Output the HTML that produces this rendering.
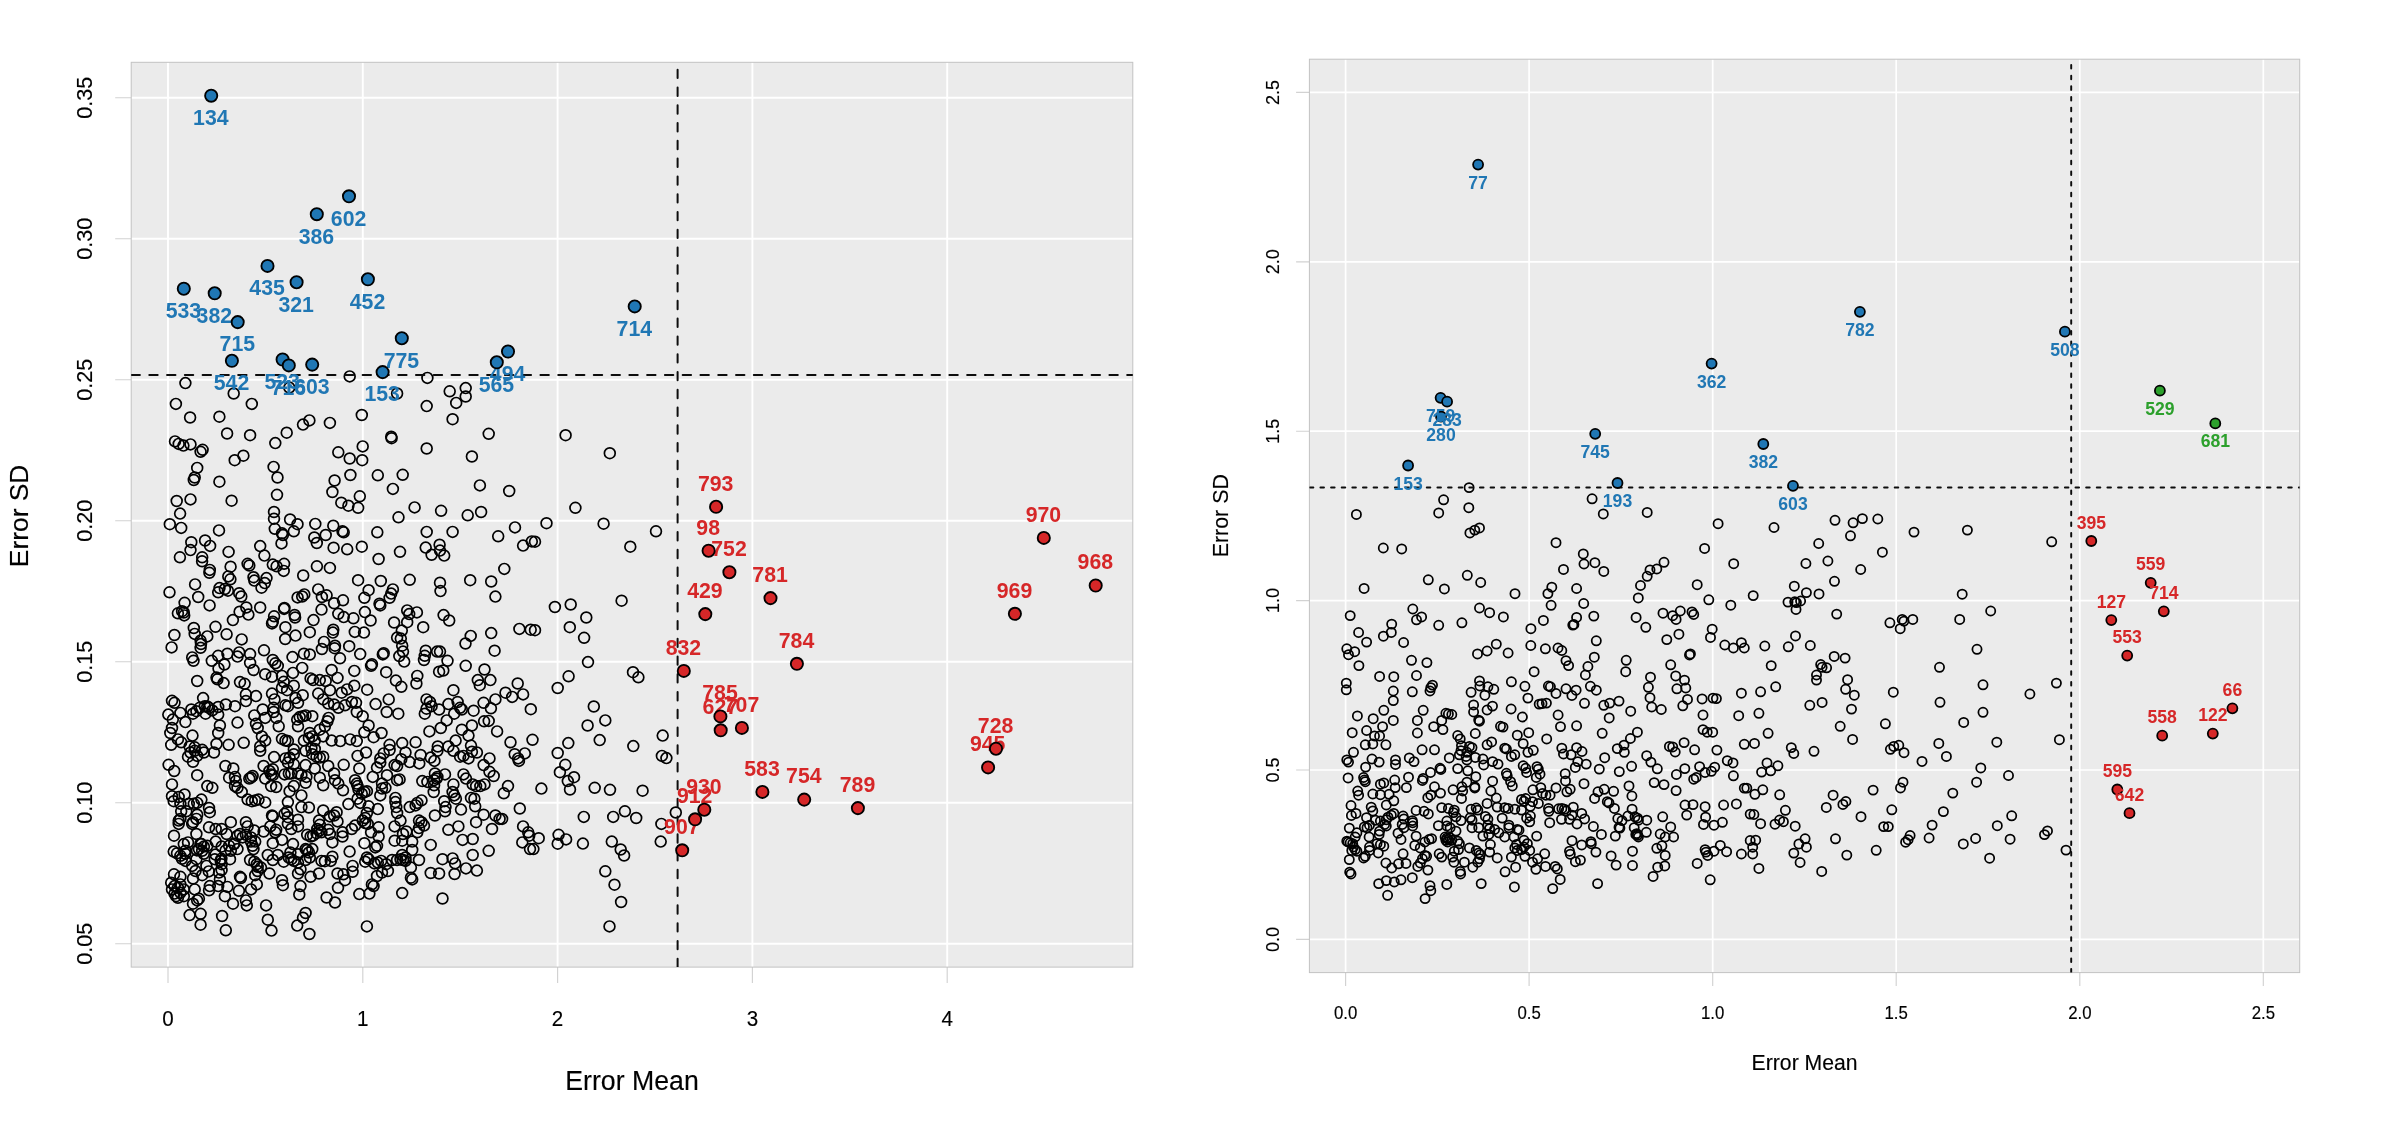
<!DOCTYPE html>
<html lang="en"><head><meta charset="utf-8"><title>Error Mean vs Error SD</title>
<style>html,body{margin:0;padding:0;background:#fff}body{width:2400px;height:1131px;overflow:hidden}svg{display:block;will-change:transform;opacity:.999}</style>
</head><body>
<svg width="2400" height="1131" viewBox="0 0 2400 1131" font-family='"Liberation Sans", Arial, Helvetica, sans-serif'>
<rect width="2400" height="1131" fill="#fff"/>
<rect x="131.2" y="62.3" width="1001.6" height="904.8" fill="#ebebeb"/>
<path d="M168 62.3V967.1M362.8 62.3V967.1M557.6 62.3V967.1M752.4 62.3V967.1M947.2 62.3V967.1M131.2 943.7H1132.8M131.2 802.7H1132.8M131.2 661.7H1132.8M131.2 520.7H1132.8M131.2 379.7H1132.8M131.2 238.7H1132.8M131.2 97.7H1132.8" stroke="#fff" stroke-width="1.9" fill="none"/>
<path d="M168 967.1v16M362.8 967.1v16M557.6 967.1v16M752.4 967.1v16M947.2 967.1v16M131.2 943.7h-16M131.2 802.7h-16M131.2 661.7h-16M131.2 520.7h-16M131.2 379.7h-16M131.2 238.7h-16M131.2 97.7h-16" stroke="#d2d2d2" stroke-width="1.15" fill="none"/>
<rect x="131.2" y="62.3" width="1001.6" height="904.8" fill="none" stroke="#c2c2c2" stroke-width="1"/>
<clipPath id="cl"><rect x="131.2" y="62.3" width="1001.6" height="904.8"/></clipPath>
<g clip-path="url(#cl)">
<g fill="none" stroke="#000" stroke-width="1.7">
<circle cx="185.4" cy="383.1" r="5.4"/><circle cx="349.7" cy="376.4" r="5.4"/><circle cx="427.4" cy="377.9" r="5.4"/><circle cx="233.7" cy="393.5" r="5.4"/><circle cx="289.3" cy="387.6" r="5.4"/><circle cx="397.1" cy="393.5" r="5.4"/><circle cx="449.7" cy="391.3" r="5.4"/><circle cx="465.7" cy="388.1" r="5.4"/><circle cx="465.7" cy="396.5" r="5.4"/><circle cx="456.2" cy="402.9" r="5.4"/><circle cx="175.9" cy="403.9" r="5.4"/><circle cx="251.8" cy="403.9" r="5.4"/><circle cx="426.7" cy="406.1" r="5.4"/><circle cx="361.8" cy="415" r="5.4"/><circle cx="190.1" cy="417.5" r="5.4"/><circle cx="219.4" cy="416.7" r="5.4"/><circle cx="452.6" cy="419.2" r="5.4"/><circle cx="309.4" cy="420.4" r="5.4"/><circle cx="303" cy="424.6" r="5.4"/><circle cx="329.9" cy="422.9" r="5.4"/><circle cx="227.1" cy="433.5" r="5.4"/><circle cx="250.1" cy="435.2" r="5.4"/><circle cx="286.7" cy="432.7" r="5.4"/><circle cx="488.7" cy="433.8" r="5.4"/><circle cx="391.2" cy="436.7" r="5.4"/><circle cx="391.6" cy="438.2" r="5.4"/><circle cx="275.3" cy="443.1" r="5.4"/><circle cx="175" cy="441.4" r="5.4"/><circle cx="178.7" cy="443.9" r="5.4"/><circle cx="183.4" cy="445.6" r="5.4"/><circle cx="190.5" cy="444.4" r="5.4"/><circle cx="202.6" cy="449.8" r="5.4"/><circle cx="200.6" cy="451.8" r="5.4"/><circle cx="362.7" cy="446.4" r="5.4"/><circle cx="426.7" cy="448.5" r="5.4"/><circle cx="338.3" cy="452.3" r="5.4"/><circle cx="349.7" cy="458.5" r="5.4"/><circle cx="362.2" cy="460.2" r="5.4"/><circle cx="243.4" cy="455.7" r="5.4"/><circle cx="234.7" cy="460.2" r="5.4"/><circle cx="471.9" cy="456.5" r="5.4"/><circle cx="273.6" cy="466.9" r="5.4"/><circle cx="197.2" cy="467.9" r="5.4"/><circle cx="350.4" cy="475" r="5.4"/><circle cx="377.8" cy="475.3" r="5.4"/><circle cx="402.7" cy="474.8" r="5.4"/><circle cx="277.5" cy="477.5" r="5.4"/><circle cx="194.7" cy="477.5" r="5.4"/><circle cx="193.8" cy="480" r="5.4"/><circle cx="219.4" cy="481.7" r="5.4"/><circle cx="334.6" cy="480.5" r="5.4"/><circle cx="479.9" cy="485.4" r="5.4"/><circle cx="392.9" cy="488.9" r="5.4"/><circle cx="509.2" cy="491" r="5.4"/><circle cx="332.4" cy="492" r="5.4"/><circle cx="277" cy="494.8" r="5.4"/><circle cx="359.8" cy="496.3" r="5.4"/><circle cx="190.5" cy="499.4" r="5.4"/><circle cx="176.7" cy="501" r="5.4"/><circle cx="231.6" cy="500.7" r="5.4"/><circle cx="341.3" cy="502.7" r="5.4"/><circle cx="348.4" cy="505.7" r="5.4"/><circle cx="358.1" cy="507.8" r="5.4"/><circle cx="414.6" cy="507.4" r="5.4"/><circle cx="441.1" cy="510.8" r="5.4"/><circle cx="481.1" cy="512" r="5.4"/><circle cx="467.7" cy="515.3" r="5.4"/><circle cx="180.1" cy="513.6" r="5.4"/><circle cx="274" cy="512" r="5.4"/><circle cx="398.5" cy="517.3" r="5.4"/><circle cx="274" cy="518.7" r="5.4"/><circle cx="290.1" cy="519.5" r="5.4"/><circle cx="297.5" cy="524.2" r="5.4"/><circle cx="169.8" cy="524.2" r="5.4"/><circle cx="181.2" cy="527.9" r="5.4"/><circle cx="315.3" cy="523.9" r="5.4"/><circle cx="333.3" cy="525.7" r="5.4"/><circle cx="274.8" cy="528.8" r="5.4"/><circle cx="219" cy="530.4" r="5.4"/><circle cx="293.8" cy="531.3" r="5.4"/><circle cx="282" cy="533.3" r="5.4"/><circle cx="282.9" cy="535" r="5.4"/><circle cx="342.5" cy="531.3" r="5.4"/><circle cx="343.7" cy="532.3" r="5.4"/><circle cx="377.3" cy="532.3" r="5.4"/><circle cx="426.7" cy="531.9" r="5.4"/><circle cx="452.6" cy="531.9" r="5.4"/><circle cx="515" cy="527.4" r="5.4"/><circle cx="498.2" cy="536.3" r="5.4"/><circle cx="325.7" cy="535" r="5.4"/><circle cx="314.3" cy="537.5" r="5.4"/><circle cx="191.3" cy="542.2" r="5.4"/><circle cx="205.1" cy="540.5" r="5.4"/><circle cx="210.1" cy="545.9" r="5.4"/><circle cx="281.5" cy="543.4" r="5.4"/><circle cx="316.8" cy="543" r="5.4"/><circle cx="260.2" cy="546.1" r="5.4"/><circle cx="333.6" cy="547.7" r="5.4"/><circle cx="347.2" cy="549.3" r="5.4"/><circle cx="361.8" cy="546.7" r="5.4"/><circle cx="439.6" cy="544.7" r="5.4"/><circle cx="425.7" cy="547.6" r="5.4"/><circle cx="440" cy="550.6" r="5.4"/><circle cx="523.1" cy="545.6" r="5.4"/><circle cx="190.5" cy="550.1" r="5.4"/><circle cx="228.6" cy="551.9" r="5.4"/><circle cx="400" cy="551.8" r="5.4"/><circle cx="264.4" cy="555.6" r="5.4"/><circle cx="431.6" cy="554.8" r="5.4"/><circle cx="444.2" cy="555.6" r="5.4"/><circle cx="179.9" cy="557.3" r="5.4"/><circle cx="202.2" cy="557.3" r="5.4"/><circle cx="378.6" cy="559" r="5.4"/><circle cx="531.8" cy="541.4" r="5.4"/><circle cx="565.6" cy="435.2" r="5.4"/><circle cx="609.8" cy="453.2" r="5.4"/><circle cx="575.4" cy="507.8" r="5.4"/><circle cx="546.5" cy="523.2" r="5.4"/><circle cx="603.6" cy="523.7" r="5.4"/><circle cx="656" cy="531.3" r="5.4"/><circle cx="535" cy="541.7" r="5.4"/><circle cx="630.3" cy="546.7" r="5.4"/><circle cx="621.6" cy="600.7" r="5.4"/><circle cx="554.9" cy="607" r="5.4"/><circle cx="570.7" cy="604.5" r="5.4"/><circle cx="586.3" cy="617.5" r="5.4"/><circle cx="535" cy="630.2" r="5.4"/><circle cx="569.8" cy="627.2" r="5.4"/><circle cx="584.1" cy="637.8" r="5.4"/><circle cx="588" cy="662.1" r="5.4"/><circle cx="633" cy="672.2" r="5.4"/><circle cx="638.4" cy="677.3" r="5.4"/><circle cx="568.6" cy="676.3" r="5.4"/><circle cx="557.7" cy="688" r="5.4"/><circle cx="593.8" cy="706.5" r="5.4"/><circle cx="530.8" cy="709.2" r="5.4"/><circle cx="605.3" cy="720.4" r="5.4"/><circle cx="587.6" cy="725.5" r="5.4"/><circle cx="662.7" cy="735.6" r="5.4"/><circle cx="532.5" cy="739.8" r="5.4"/><circle cx="599.7" cy="740.1" r="5.4"/><circle cx="568.3" cy="743.1" r="5.4"/><circle cx="633.3" cy="746.1" r="5.4"/><circle cx="557.7" cy="753" r="5.4"/><circle cx="661.9" cy="755.9" r="5.4"/><circle cx="666.4" cy="758.1" r="5.4"/><circle cx="565.3" cy="764.8" r="5.4"/><circle cx="559.9" cy="772.2" r="5.4"/><circle cx="574" cy="777.2" r="5.4"/><circle cx="567.8" cy="781.1" r="5.4"/><circle cx="541.4" cy="788.6" r="5.4"/><circle cx="570" cy="789.5" r="5.4"/><circle cx="594.7" cy="787.8" r="5.4"/><circle cx="610" cy="789.8" r="5.4"/><circle cx="642.6" cy="790.7" r="5.4"/><circle cx="624.9" cy="811.3" r="5.4"/><circle cx="583.8" cy="816.9" r="5.4"/><circle cx="613.2" cy="816.9" r="5.4"/><circle cx="636.2" cy="818" r="5.4"/><circle cx="675.8" cy="812.5" r="5.4"/><circle cx="661.4" cy="823.9" r="5.4"/><circle cx="558.6" cy="834.8" r="5.4"/><circle cx="538.7" cy="838.2" r="5.4"/><circle cx="566.1" cy="839.4" r="5.4"/><circle cx="557.7" cy="843.7" r="5.4"/><circle cx="582.9" cy="843.6" r="5.4"/><circle cx="611.8" cy="841.6" r="5.4"/><circle cx="660.7" cy="841.6" r="5.4"/><circle cx="620.7" cy="849.5" r="5.4"/><circle cx="624.1" cy="855.5" r="5.4"/><circle cx="533.4" cy="849.1" r="5.4"/><circle cx="529.2" cy="835.7" r="5.4"/><circle cx="605.3" cy="871.3" r="5.4"/><circle cx="614.5" cy="884.7" r="5.4"/><circle cx="621.1" cy="902" r="5.4"/><circle cx="609.5" cy="926.4" r="5.4"/><circle cx="202.1" cy="561.3" r="5.4"/><circle cx="209.8" cy="569.9" r="5.4"/><circle cx="209.4" cy="572.8" r="5.4"/><circle cx="230.6" cy="566.7" r="5.4"/><circle cx="228.3" cy="576.4" r="5.4"/><circle cx="230.4" cy="579.3" r="5.4"/><circle cx="247.6" cy="563.8" r="5.4"/><circle cx="249.3" cy="565.5" r="5.4"/><circle cx="272.8" cy="564.6" r="5.4"/><circle cx="276.6" cy="566.3" r="5.4"/><circle cx="284.1" cy="563.8" r="5.4"/><circle cx="283.7" cy="570.9" r="5.4"/><circle cx="316.9" cy="566.3" r="5.4"/><circle cx="303.2" cy="575.5" r="5.4"/><circle cx="253.5" cy="577.2" r="5.4"/><circle cx="254.3" cy="580.6" r="5.4"/><circle cx="266.5" cy="578.1" r="5.4"/><circle cx="264.8" cy="583.1" r="5.4"/><circle cx="261.5" cy="587.7" r="5.4"/><circle cx="195.1" cy="584.4" r="5.4"/><circle cx="169.5" cy="592.3" r="5.4"/><circle cx="219.5" cy="588.1" r="5.4"/><circle cx="218.2" cy="592.3" r="5.4"/><circle cx="224.9" cy="589" r="5.4"/><circle cx="227.9" cy="590.7" r="5.4"/><circle cx="239.2" cy="593.2" r="5.4"/><circle cx="241.3" cy="596.5" r="5.4"/><circle cx="198.2" cy="597" r="5.4"/><circle cx="318.2" cy="589.4" r="5.4"/><circle cx="304.3" cy="594.4" r="5.4"/><circle cx="302.2" cy="596.5" r="5.4"/><circle cx="297.6" cy="597.4" r="5.4"/><circle cx="321.9" cy="597" r="5.4"/><circle cx="326.6" cy="595.3" r="5.4"/><circle cx="184.6" cy="602.8" r="5.4"/><circle cx="209.6" cy="605.4" r="5.4"/><circle cx="182.1" cy="611.2" r="5.4"/><circle cx="183.8" cy="612.5" r="5.4"/><circle cx="184.2" cy="615.4" r="5.4"/><circle cx="177.9" cy="613.3" r="5.4"/><circle cx="246.3" cy="607.5" r="5.4"/><circle cx="239.6" cy="611.7" r="5.4"/><circle cx="248.4" cy="614.6" r="5.4"/><circle cx="260.2" cy="607.5" r="5.4"/><circle cx="284.4" cy="607.9" r="5.4"/><circle cx="284.1" cy="608.9" r="5.4"/><circle cx="232.9" cy="620.1" r="5.4"/><circle cx="274.1" cy="616.3" r="5.4"/><circle cx="294.6" cy="615" r="5.4"/><circle cx="295.1" cy="617.5" r="5.4"/><circle cx="272.8" cy="621.7" r="5.4"/><circle cx="272" cy="623.4" r="5.4"/><circle cx="321.5" cy="609.6" r="5.4"/><circle cx="313.5" cy="620.1" r="5.4"/><circle cx="193.8" cy="628" r="5.4"/><circle cx="194.7" cy="633.9" r="5.4"/><circle cx="215.5" cy="626.8" r="5.4"/><circle cx="285.4" cy="627.2" r="5.4"/><circle cx="309.8" cy="632.2" r="5.4"/><circle cx="295.5" cy="635.6" r="5.4"/><circle cx="174.4" cy="635" r="5.4"/><circle cx="207.3" cy="636.4" r="5.4"/><circle cx="226.6" cy="634.3" r="5.4"/><circle cx="200.6" cy="640.6" r="5.4"/><circle cx="201" cy="644" r="5.4"/><circle cx="200.6" cy="647.8" r="5.4"/><circle cx="241.7" cy="639.4" r="5.4"/><circle cx="285.2" cy="639" r="5.4"/><circle cx="171.6" cy="647.4" r="5.4"/><circle cx="324" cy="641.9" r="5.4"/><circle cx="321.9" cy="649" r="5.4"/><circle cx="264" cy="650.3" r="5.4"/><circle cx="227.4" cy="653.7" r="5.4"/><circle cx="239.2" cy="652.4" r="5.4"/><circle cx="250.1" cy="654.1" r="5.4"/><circle cx="303.9" cy="653.7" r="5.4"/><circle cx="309.8" cy="654.5" r="5.4"/><circle cx="329.9" cy="567.9" r="5.4"/><circle cx="358.1" cy="580.2" r="5.4"/><circle cx="380.8" cy="581" r="5.4"/><circle cx="409.7" cy="579.8" r="5.4"/><circle cx="440" cy="582.7" r="5.4"/><circle cx="440.5" cy="591.1" r="5.4"/><circle cx="470.2" cy="580.2" r="5.4"/><circle cx="491.2" cy="581.5" r="5.4"/><circle cx="504.3" cy="568.9" r="5.4"/><circle cx="495.4" cy="596.6" r="5.4"/><circle cx="368.6" cy="590.2" r="5.4"/><circle cx="364.4" cy="597.8" r="5.4"/><circle cx="392.9" cy="589.4" r="5.4"/><circle cx="391.2" cy="593.6" r="5.4"/><circle cx="389.6" cy="597.8" r="5.4"/><circle cx="379.5" cy="603.7" r="5.4"/><circle cx="380.3" cy="605.4" r="5.4"/><circle cx="343" cy="600.3" r="5.4"/><circle cx="334.1" cy="603.3" r="5.4"/><circle cx="338.3" cy="613.8" r="5.4"/><circle cx="343.7" cy="617.1" r="5.4"/><circle cx="353.4" cy="618.3" r="5.4"/><circle cx="364.9" cy="612.1" r="5.4"/><circle cx="370.6" cy="620.5" r="5.4"/><circle cx="407.2" cy="610.4" r="5.4"/><circle cx="409.2" cy="614.1" r="5.4"/><circle cx="416.9" cy="612.4" r="5.4"/><circle cx="407.2" cy="622.2" r="5.4"/><circle cx="394.1" cy="622.5" r="5.4"/><circle cx="443.6" cy="615.1" r="5.4"/><circle cx="449.2" cy="620.5" r="5.4"/><circle cx="423.2" cy="627.2" r="5.4"/><circle cx="401.8" cy="630.6" r="5.4"/><circle cx="354.8" cy="631.9" r="5.4"/><circle cx="364" cy="632.6" r="5.4"/><circle cx="333.3" cy="629.7" r="5.4"/><circle cx="332.9" cy="632.6" r="5.4"/><circle cx="397.1" cy="637.6" r="5.4"/><circle cx="400.8" cy="638.6" r="5.4"/><circle cx="470.7" cy="635.9" r="5.4"/><circle cx="491.2" cy="633.1" r="5.4"/><circle cx="519.4" cy="628.9" r="5.4"/><circle cx="465.5" cy="643.5" r="5.4"/><circle cx="494.6" cy="650.7" r="5.4"/><circle cx="349.2" cy="646.2" r="5.4"/><circle cx="335" cy="645.7" r="5.4"/><circle cx="334.6" cy="648.2" r="5.4"/><circle cx="402.2" cy="645.7" r="5.4"/><circle cx="403" cy="651.6" r="5.4"/><circle cx="383.7" cy="653.2" r="5.4"/><circle cx="382.8" cy="654.4" r="5.4"/><circle cx="360.2" cy="654.1" r="5.4"/><circle cx="425.7" cy="650.7" r="5.4"/><circle cx="437.1" cy="651.6" r="5.4"/><circle cx="440" cy="651.6" r="5.4"/><circle cx="424.8" cy="655.8" r="5.4"/><circle cx="399.3" cy="656.1" r="5.4"/><circle cx="530.7" cy="629.7" r="5.4"/><circle cx="424" cy="660" r="5.4"/><circle cx="404.2" cy="661.6" r="5.4"/><circle cx="447.5" cy="660.8" r="5.4"/><circle cx="371.9" cy="664.2" r="5.4"/><circle cx="371.1" cy="665.8" r="5.4"/><circle cx="465.7" cy="665.8" r="5.4"/><circle cx="340" cy="658.3" r="5.4"/><circle cx="354.3" cy="670.9" r="5.4"/><circle cx="386.2" cy="672.2" r="5.4"/><circle cx="439.1" cy="671.7" r="5.4"/><circle cx="443.3" cy="670.5" r="5.4"/><circle cx="484.5" cy="669.5" r="5.4"/><circle cx="417.3" cy="675.9" r="5.4"/><circle cx="337.5" cy="677.9" r="5.4"/><circle cx="331.6" cy="670" r="5.4"/><circle cx="395.9" cy="680.6" r="5.4"/><circle cx="416.4" cy="683.5" r="5.4"/><circle cx="477.8" cy="680.1" r="5.4"/><circle cx="490.4" cy="680.1" r="5.4"/><circle cx="479.8" cy="685.2" r="5.4"/><circle cx="517.7" cy="683.5" r="5.4"/><circle cx="401.3" cy="686.8" r="5.4"/><circle cx="354.3" cy="685.7" r="5.4"/><circle cx="347.1" cy="689.4" r="5.4"/><circle cx="341.7" cy="692.7" r="5.4"/><circle cx="367.2" cy="689.7" r="5.4"/><circle cx="453.4" cy="690.2" r="5.4"/><circle cx="505.5" cy="692.7" r="5.4"/><circle cx="523.1" cy="694.4" r="5.4"/><circle cx="512.2" cy="696.9" r="5.4"/><circle cx="495.4" cy="699.4" r="5.4"/><circle cx="388.7" cy="699.4" r="5.4"/><circle cx="426.5" cy="699.4" r="5.4"/><circle cx="429.9" cy="702" r="5.4"/><circle cx="431.6" cy="706.2" r="5.4"/><circle cx="426.5" cy="708.7" r="5.4"/><circle cx="375.6" cy="704.1" r="5.4"/><circle cx="356" cy="702.8" r="5.4"/><circle cx="351.8" cy="702" r="5.4"/><circle cx="345" cy="705.3" r="5.4"/><circle cx="338.3" cy="707.8" r="5.4"/><circle cx="334.1" cy="704.5" r="5.4"/><circle cx="448.4" cy="704.1" r="5.4"/><circle cx="457.6" cy="702" r="5.4"/><circle cx="460.1" cy="707.8" r="5.4"/><circle cx="461.8" cy="709.5" r="5.4"/><circle cx="454.2" cy="713.7" r="5.4"/><circle cx="483.6" cy="702.8" r="5.4"/><circle cx="490.9" cy="708.3" r="5.4"/><circle cx="473.6" cy="710.7" r="5.4"/><circle cx="439.1" cy="709.5" r="5.4"/><circle cx="424.8" cy="713.7" r="5.4"/><circle cx="386.7" cy="712" r="5.4"/><circle cx="398.3" cy="713.7" r="5.4"/><circle cx="356.8" cy="712" r="5.4"/><circle cx="362.7" cy="716.2" r="5.4"/><circle cx="446.7" cy="720.4" r="5.4"/><circle cx="471.9" cy="725.5" r="5.4"/><circle cx="484.1" cy="721.3" r="5.4"/><circle cx="488.7" cy="720.9" r="5.4"/><circle cx="368.6" cy="725.5" r="5.4"/><circle cx="440.8" cy="728" r="5.4"/><circle cx="461.8" cy="729.7" r="5.4"/><circle cx="468.5" cy="735.6" r="5.4"/><circle cx="497.1" cy="731.4" r="5.4"/><circle cx="429.4" cy="731.4" r="5.4"/><circle cx="381.5" cy="733" r="5.4"/><circle cx="364.4" cy="732.2" r="5.4"/><circle cx="373.6" cy="737.2" r="5.4"/><circle cx="356.8" cy="741.1" r="5.4"/><circle cx="350.1" cy="739.4" r="5.4"/><circle cx="340.3" cy="741.1" r="5.4"/><circle cx="331.6" cy="740.6" r="5.4"/><circle cx="455.6" cy="740.6" r="5.4"/><circle cx="471" cy="745.6" r="5.4"/><circle cx="510.5" cy="742.3" r="5.4"/><circle cx="402.2" cy="743.1" r="5.4"/><circle cx="415.6" cy="742.3" r="5.4"/><circle cx="389.6" cy="744.8" r="5.4"/><circle cx="437.8" cy="746.5" r="5.4"/><circle cx="448.4" cy="746.5" r="5.4"/><circle cx="192.2" cy="657.4" r="5.4"/><circle cx="193.5" cy="660.8" r="5.4"/><circle cx="211.8" cy="660.8" r="5.4"/><circle cx="218.2" cy="655.8" r="5.4"/><circle cx="224.4" cy="664.5" r="5.4"/><circle cx="218.5" cy="668.4" r="5.4"/><circle cx="237.5" cy="656.6" r="5.4"/><circle cx="250.1" cy="662.8" r="5.4"/><circle cx="253.5" cy="670" r="5.4"/><circle cx="272.8" cy="660" r="5.4"/><circle cx="275.3" cy="663.3" r="5.4"/><circle cx="277.8" cy="665.8" r="5.4"/><circle cx="292.5" cy="657.1" r="5.4"/><circle cx="302.2" cy="667.9" r="5.4"/><circle cx="293" cy="672.9" r="5.4"/><circle cx="265.2" cy="674.2" r="5.4"/><circle cx="272" cy="676.8" r="5.4"/><circle cx="282" cy="675.9" r="5.4"/><circle cx="283.7" cy="681.8" r="5.4"/><circle cx="310.6" cy="678.4" r="5.4"/><circle cx="313.1" cy="680.1" r="5.4"/><circle cx="319.8" cy="680.1" r="5.4"/><circle cx="325.7" cy="681" r="5.4"/><circle cx="197.2" cy="681" r="5.4"/><circle cx="216.5" cy="677.6" r="5.4"/><circle cx="217.4" cy="679.3" r="5.4"/><circle cx="223.6" cy="683.1" r="5.4"/><circle cx="240" cy="682.1" r="5.4"/><circle cx="244.6" cy="683.8" r="5.4"/><circle cx="293.8" cy="685.7" r="5.4"/><circle cx="282" cy="687.7" r="5.4"/><circle cx="287.1" cy="690.2" r="5.4"/><circle cx="302.7" cy="695.2" r="5.4"/><circle cx="295.5" cy="698.1" r="5.4"/><circle cx="318.2" cy="693.6" r="5.4"/><circle cx="329.9" cy="690.2" r="5.4"/><circle cx="272" cy="693.6" r="5.4"/><circle cx="274.5" cy="699.4" r="5.4"/><circle cx="245.9" cy="694.4" r="5.4"/><circle cx="256" cy="696.1" r="5.4"/><circle cx="245.9" cy="701.1" r="5.4"/><circle cx="203.1" cy="698.1" r="5.4"/><circle cx="172" cy="700.8" r="5.4"/><circle cx="174.5" cy="702.8" r="5.4"/><circle cx="204.8" cy="706.2" r="5.4"/><circle cx="209" cy="707.8" r="5.4"/><circle cx="207.3" cy="706.5" r="5.4"/><circle cx="199.7" cy="707.8" r="5.4"/><circle cx="191.3" cy="709.5" r="5.4"/><circle cx="196.4" cy="711.2" r="5.4"/><circle cx="212.3" cy="710.4" r="5.4"/><circle cx="218.2" cy="707" r="5.4"/><circle cx="225.8" cy="704.5" r="5.4"/><circle cx="235" cy="706.2" r="5.4"/><circle cx="180.4" cy="712.9" r="5.4"/><circle cx="168.3" cy="714.6" r="5.4"/><circle cx="172.8" cy="719.6" r="5.4"/><circle cx="193" cy="713.7" r="5.4"/><circle cx="205.6" cy="713.7" r="5.4"/><circle cx="218.2" cy="714.6" r="5.4"/><circle cx="185.4" cy="722.1" r="5.4"/><circle cx="172" cy="728" r="5.4"/><circle cx="170.3" cy="733" r="5.4"/><circle cx="219.9" cy="725.5" r="5.4"/><circle cx="237.5" cy="722.6" r="5.4"/><circle cx="218.2" cy="733" r="5.4"/><circle cx="192.5" cy="735.6" r="5.4"/><circle cx="177.9" cy="739.4" r="5.4"/><circle cx="181.2" cy="742.3" r="5.4"/><circle cx="171.2" cy="744.8" r="5.4"/><circle cx="189.6" cy="746.5" r="5.4"/><circle cx="194.7" cy="747.3" r="5.4"/><circle cx="216.5" cy="744" r="5.4"/><circle cx="228.6" cy="744.8" r="5.4"/><circle cx="243.7" cy="742.8" r="5.4"/><circle cx="202.2" cy="749.8" r="5.4"/><circle cx="262.7" cy="709.5" r="5.4"/><circle cx="254.3" cy="715.4" r="5.4"/><circle cx="265.2" cy="717.9" r="5.4"/><circle cx="273.6" cy="707.8" r="5.4"/><circle cx="273.6" cy="712" r="5.4"/><circle cx="276.2" cy="717.9" r="5.4"/><circle cx="285.4" cy="705.3" r="5.4"/><circle cx="287.9" cy="706.2" r="5.4"/><circle cx="298" cy="702.8" r="5.4"/><circle cx="328.2" cy="703.6" r="5.4"/><circle cx="323.2" cy="699.4" r="5.4"/><circle cx="303" cy="716.2" r="5.4"/><circle cx="299.7" cy="717.1" r="5.4"/><circle cx="305.6" cy="715.4" r="5.4"/><circle cx="312.3" cy="716.2" r="5.4"/><circle cx="297.2" cy="719.6" r="5.4"/><circle cx="298" cy="726.3" r="5.4"/><circle cx="278.7" cy="726.3" r="5.4"/><circle cx="256" cy="723.8" r="5.4"/><circle cx="257.7" cy="728" r="5.4"/><circle cx="261.9" cy="736.4" r="5.4"/><circle cx="265.2" cy="740.6" r="5.4"/><circle cx="282" cy="738.9" r="5.4"/><circle cx="285.4" cy="740.6" r="5.4"/><circle cx="287.9" cy="741.1" r="5.4"/><circle cx="309.8" cy="733" r="5.4"/><circle cx="312.3" cy="736.4" r="5.4"/><circle cx="308.9" cy="738.1" r="5.4"/><circle cx="314.8" cy="740.6" r="5.4"/><circle cx="319.8" cy="729.7" r="5.4"/><circle cx="324.9" cy="726.3" r="5.4"/><circle cx="327.4" cy="721.3" r="5.4"/><circle cx="328.6" cy="717.9" r="5.4"/><circle cx="323.2" cy="736.4" r="5.4"/><circle cx="303.9" cy="740.6" r="5.4"/><circle cx="260.2" cy="746.5" r="5.4"/><circle cx="293.8" cy="749.5" r="5.4"/><circle cx="311.4" cy="748.2" r="5.4"/><circle cx="314.8" cy="749" r="5.4"/><circle cx="190.5" cy="752.5" r="5.4"/><circle cx="194.7" cy="750.8" r="5.4"/><circle cx="197.2" cy="755.9" r="5.4"/><circle cx="188" cy="756.7" r="5.4"/><circle cx="193" cy="761.8" r="5.4"/><circle cx="203.9" cy="752.5" r="5.4"/><circle cx="214" cy="752.5" r="5.4"/><circle cx="260.2" cy="750.8" r="5.4"/><circle cx="274.1" cy="757.1" r="5.4"/><circle cx="285.4" cy="758.4" r="5.4"/><circle cx="289.6" cy="757.6" r="5.4"/><circle cx="293.8" cy="754.2" r="5.4"/><circle cx="305.6" cy="750.8" r="5.4"/><circle cx="312.3" cy="754.2" r="5.4"/><circle cx="316.5" cy="756.7" r="5.4"/><circle cx="319.8" cy="757.6" r="5.4"/><circle cx="323.2" cy="756.7" r="5.4"/><circle cx="357.6" cy="755.9" r="5.4"/><circle cx="366" cy="752.5" r="5.4"/><circle cx="380.3" cy="758.4" r="5.4"/><circle cx="383.7" cy="753.4" r="5.4"/><circle cx="389.6" cy="750" r="5.4"/><circle cx="401.3" cy="759.2" r="5.4"/><circle cx="405.5" cy="752.5" r="5.4"/><circle cx="420.6" cy="755" r="5.4"/><circle cx="430.7" cy="757.6" r="5.4"/><circle cx="434.4" cy="760.9" r="5.4"/><circle cx="437.4" cy="750.8" r="5.4"/><circle cx="453.4" cy="750.8" r="5.4"/><circle cx="460.1" cy="756.7" r="5.4"/><circle cx="463.5" cy="755.9" r="5.4"/><circle cx="468.5" cy="758.4" r="5.4"/><circle cx="471.9" cy="751.7" r="5.4"/><circle cx="476.9" cy="752.5" r="5.4"/><circle cx="489.5" cy="758.4" r="5.4"/><circle cx="514.7" cy="754.2" r="5.4"/><circle cx="518.1" cy="758.4" r="5.4"/><circle cx="524.8" cy="753.4" r="5.4"/><circle cx="518.9" cy="760.9" r="5.4"/><circle cx="168.6" cy="764.8" r="5.4"/><circle cx="174.2" cy="771" r="5.4"/><circle cx="225.4" cy="766" r="5.4"/><circle cx="233.3" cy="768.5" r="5.4"/><circle cx="263.6" cy="766" r="5.4"/><circle cx="269.4" cy="771" r="5.4"/><circle cx="272.8" cy="769.3" r="5.4"/><circle cx="287.9" cy="762.6" r="5.4"/><circle cx="293.8" cy="764.3" r="5.4"/><circle cx="305.6" cy="765.1" r="5.4"/><circle cx="314.8" cy="768.5" r="5.4"/><circle cx="328.2" cy="766" r="5.4"/><circle cx="343.7" cy="764.8" r="5.4"/><circle cx="359.3" cy="768.5" r="5.4"/><circle cx="377" cy="767.6" r="5.4"/><circle cx="380.3" cy="762.6" r="5.4"/><circle cx="394.6" cy="765.1" r="5.4"/><circle cx="397.1" cy="766" r="5.4"/><circle cx="409.7" cy="762.1" r="5.4"/><circle cx="419.3" cy="763.4" r="5.4"/><circle cx="445" cy="774.4" r="5.4"/><circle cx="434.9" cy="773.5" r="5.4"/><circle cx="483.6" cy="765.1" r="5.4"/><circle cx="489.5" cy="771.8" r="5.4"/><circle cx="463.5" cy="774.4" r="5.4"/><circle cx="197.2" cy="775.2" r="5.4"/><circle cx="229.1" cy="777.7" r="5.4"/><circle cx="235" cy="776.9" r="5.4"/><circle cx="235.8" cy="781.1" r="5.4"/><circle cx="249.3" cy="778.6" r="5.4"/><circle cx="251" cy="777.7" r="5.4"/><circle cx="252.6" cy="776" r="5.4"/><circle cx="265.2" cy="778.6" r="5.4"/><circle cx="271.1" cy="774.4" r="5.4"/><circle cx="272.8" cy="775.2" r="5.4"/><circle cx="284.6" cy="774.4" r="5.4"/><circle cx="288.8" cy="773.5" r="5.4"/><circle cx="291.3" cy="773.5" r="5.4"/><circle cx="298" cy="773.5" r="5.4"/><circle cx="301.4" cy="775.2" r="5.4"/><circle cx="306.4" cy="776.9" r="5.4"/><circle cx="305.6" cy="782.8" r="5.4"/><circle cx="319.8" cy="777.7" r="5.4"/><circle cx="323.2" cy="785.3" r="5.4"/><circle cx="334.1" cy="773.5" r="5.4"/><circle cx="335" cy="780.2" r="5.4"/><circle cx="338.3" cy="783.6" r="5.4"/><circle cx="355.1" cy="780.2" r="5.4"/><circle cx="356.8" cy="783.6" r="5.4"/><circle cx="357.6" cy="786.1" r="5.4"/><circle cx="372.8" cy="776.9" r="5.4"/><circle cx="387" cy="775.2" r="5.4"/><circle cx="382" cy="783.6" r="5.4"/><circle cx="397.1" cy="780.2" r="5.4"/><circle cx="399.6" cy="779.4" r="5.4"/><circle cx="422.3" cy="781.1" r="5.4"/><circle cx="427.4" cy="781.9" r="5.4"/><circle cx="434.1" cy="780.2" r="5.4"/><circle cx="436.6" cy="778.6" r="5.4"/><circle cx="437.4" cy="776.9" r="5.4"/><circle cx="434.1" cy="785.3" r="5.4"/><circle cx="466" cy="778.6" r="5.4"/><circle cx="472.7" cy="784.4" r="5.4"/><circle cx="476.1" cy="786.1" r="5.4"/><circle cx="480.3" cy="786.1" r="5.4"/><circle cx="484.5" cy="784.4" r="5.4"/><circle cx="493.7" cy="776" r="5.4"/><circle cx="453.4" cy="784.4" r="5.4"/><circle cx="508" cy="786.1" r="5.4"/><circle cx="172" cy="784.4" r="5.4"/><circle cx="207.3" cy="786.1" r="5.4"/><circle cx="212.3" cy="787.8" r="5.4"/><circle cx="235" cy="786.1" r="5.4"/><circle cx="237.5" cy="787.8" r="5.4"/><circle cx="241.7" cy="792" r="5.4"/><circle cx="271.1" cy="786.1" r="5.4"/><circle cx="276.2" cy="787" r="5.4"/><circle cx="293.8" cy="786.1" r="5.4"/><circle cx="289.6" cy="791.2" r="5.4"/><circle cx="301.4" cy="795.4" r="5.4"/><circle cx="343" cy="790.3" r="5.4"/><circle cx="358.5" cy="789.5" r="5.4"/><circle cx="361.8" cy="793.7" r="5.4"/><circle cx="364.4" cy="792" r="5.4"/><circle cx="366.9" cy="791.2" r="5.4"/><circle cx="380.3" cy="795.4" r="5.4"/><circle cx="382" cy="788.6" r="5.4"/><circle cx="385.4" cy="787.8" r="5.4"/><circle cx="395.4" cy="797.9" r="5.4"/><circle cx="433.7" cy="792" r="5.4"/><circle cx="452.6" cy="792" r="5.4"/><circle cx="454.2" cy="795.4" r="5.4"/><circle cx="471" cy="797.9" r="5.4"/><circle cx="474.4" cy="798.7" r="5.4"/><circle cx="503.8" cy="793.3" r="5.4"/><circle cx="455.9" cy="798.7" r="5.4"/><circle cx="172" cy="796.2" r="5.4"/><circle cx="173.7" cy="801.2" r="5.4"/><circle cx="178.7" cy="797" r="5.4"/><circle cx="184.6" cy="794.5" r="5.4"/><circle cx="180.4" cy="803.8" r="5.4"/><circle cx="188.8" cy="803.8" r="5.4"/><circle cx="193.8" cy="803.8" r="5.4"/><circle cx="197.2" cy="802.9" r="5.4"/><circle cx="201.4" cy="799.6" r="5.4"/><circle cx="247.6" cy="799.6" r="5.4"/><circle cx="251.8" cy="801.2" r="5.4"/><circle cx="255.2" cy="800.4" r="5.4"/><circle cx="258.5" cy="799.6" r="5.4"/><circle cx="265.2" cy="802.4" r="5.4"/><circle cx="287.9" cy="802.1" r="5.4"/><circle cx="301.4" cy="807.1" r="5.4"/><circle cx="308.9" cy="807.5" r="5.4"/><circle cx="348.4" cy="804.1" r="5.4"/><circle cx="357.6" cy="798.7" r="5.4"/><circle cx="360.2" cy="802.9" r="5.4"/><circle cx="368.6" cy="806.3" r="5.4"/><circle cx="377.8" cy="809.1" r="5.4"/><circle cx="395.4" cy="802.1" r="5.4"/><circle cx="396.3" cy="807.1" r="5.4"/><circle cx="409.7" cy="807.1" r="5.4"/><circle cx="415.6" cy="805.4" r="5.4"/><circle cx="417.3" cy="802.9" r="5.4"/><circle cx="421.5" cy="800.4" r="5.4"/><circle cx="444.2" cy="801.2" r="5.4"/><circle cx="445.5" cy="807.1" r="5.4"/><circle cx="475.2" cy="806.3" r="5.4"/><circle cx="519.8" cy="808.5" r="5.4"/><circle cx="461" cy="809.6" r="5.4"/><circle cx="181.2" cy="811.3" r="5.4"/><circle cx="186.3" cy="811.3" r="5.4"/><circle cx="197.2" cy="814.7" r="5.4"/><circle cx="209" cy="808" r="5.4"/><circle cx="209.8" cy="812.2" r="5.4"/><circle cx="178.7" cy="820.6" r="5.4"/><circle cx="180.4" cy="818.9" r="5.4"/><circle cx="193" cy="822.2" r="5.4"/><circle cx="196.4" cy="818.9" r="5.4"/><circle cx="272" cy="815.5" r="5.4"/><circle cx="272.8" cy="816.4" r="5.4"/><circle cx="287.1" cy="811.3" r="5.4"/><circle cx="284.6" cy="813.8" r="5.4"/><circle cx="287.9" cy="817.2" r="5.4"/><circle cx="298" cy="819.7" r="5.4"/><circle cx="323.2" cy="810.5" r="5.4"/><circle cx="329.9" cy="816.4" r="5.4"/><circle cx="334.1" cy="815.5" r="5.4"/><circle cx="336.6" cy="812.2" r="5.4"/><circle cx="337.5" cy="821.4" r="5.4"/><circle cx="319" cy="820.6" r="5.4"/><circle cx="319.8" cy="824.8" r="5.4"/><circle cx="366.9" cy="813" r="5.4"/><circle cx="365.2" cy="818" r="5.4"/><circle cx="362.7" cy="820.6" r="5.4"/><circle cx="365.2" cy="823.1" r="5.4"/><circle cx="367.7" cy="823.9" r="5.4"/><circle cx="397.1" cy="813" r="5.4"/><circle cx="400.5" cy="820.6" r="5.4"/><circle cx="394.6" cy="826.4" r="5.4"/><circle cx="378.6" cy="827.3" r="5.4"/><circle cx="419" cy="820.6" r="5.4"/><circle cx="421.5" cy="822.2" r="5.4"/><circle cx="424" cy="825.6" r="5.4"/><circle cx="419" cy="828.1" r="5.4"/><circle cx="434.9" cy="815.5" r="5.4"/><circle cx="445" cy="811.3" r="5.4"/><circle cx="483.6" cy="814.7" r="5.4"/><circle cx="495.4" cy="815.5" r="5.4"/><circle cx="499.6" cy="818.9" r="5.4"/><circle cx="502.1" cy="818.9" r="5.4"/><circle cx="476.1" cy="822.2" r="5.4"/><circle cx="458.4" cy="826.4" r="5.4"/><circle cx="523.1" cy="826.4" r="5.4"/><circle cx="178.7" cy="823.9" r="5.4"/><circle cx="192.2" cy="823.9" r="5.4"/><circle cx="209" cy="827.3" r="5.4"/><circle cx="215.7" cy="829" r="5.4"/><circle cx="221.6" cy="829" r="5.4"/><circle cx="230.8" cy="822.2" r="5.4"/><circle cx="245.9" cy="822.2" r="5.4"/><circle cx="247.6" cy="826.4" r="5.4"/><circle cx="254.3" cy="830.6" r="5.4"/><circle cx="263.6" cy="831.5" r="5.4"/><circle cx="270.3" cy="826.4" r="5.4"/><circle cx="276.2" cy="829.8" r="5.4"/><circle cx="275.3" cy="832.3" r="5.4"/><circle cx="287.9" cy="823.9" r="5.4"/><circle cx="291.3" cy="829" r="5.4"/><circle cx="298" cy="826.4" r="5.4"/><circle cx="317.3" cy="829" r="5.4"/><circle cx="319.8" cy="830.6" r="5.4"/><circle cx="328.2" cy="829.8" r="5.4"/><circle cx="329.9" cy="834" r="5.4"/><circle cx="342.5" cy="832.3" r="5.4"/><circle cx="351.8" cy="829" r="5.4"/><circle cx="355.1" cy="825.6" r="5.4"/><circle cx="371.1" cy="832.3" r="5.4"/><circle cx="406.4" cy="831.5" r="5.4"/><circle cx="417.3" cy="832.3" r="5.4"/><circle cx="448.4" cy="829.8" r="5.4"/><circle cx="492" cy="829" r="5.4"/><circle cx="528.2" cy="832.3" r="5.4"/><circle cx="174" cy="835.7" r="5.4"/><circle cx="196.4" cy="834" r="5.4"/><circle cx="226.6" cy="834" r="5.4"/><circle cx="237.5" cy="835.7" r="5.4"/><circle cx="240" cy="834" r="5.4"/><circle cx="242.6" cy="837.4" r="5.4"/><circle cx="245.9" cy="834.8" r="5.4"/><circle cx="251" cy="837.4" r="5.4"/><circle cx="255.2" cy="841.6" r="5.4"/><circle cx="215.7" cy="841.6" r="5.4"/><circle cx="282" cy="839.9" r="5.4"/><circle cx="272.8" cy="843.2" r="5.4"/><circle cx="293" cy="844.1" r="5.4"/><circle cx="307.2" cy="834.8" r="5.4"/><circle cx="310.6" cy="836.5" r="5.4"/><circle cx="313.1" cy="835.7" r="5.4"/><circle cx="316.5" cy="833.2" r="5.4"/><circle cx="321.5" cy="832.3" r="5.4"/><circle cx="342.5" cy="836.5" r="5.4"/><circle cx="332.4" cy="842.4" r="5.4"/><circle cx="364.4" cy="843.2" r="5.4"/><circle cx="378.6" cy="836.5" r="5.4"/><circle cx="377" cy="845.8" r="5.4"/><circle cx="394.6" cy="840.7" r="5.4"/><circle cx="402.2" cy="840.7" r="5.4"/><circle cx="403" cy="834" r="5.4"/><circle cx="412.2" cy="841.6" r="5.4"/><circle cx="430.7" cy="844.9" r="5.4"/><circle cx="462.6" cy="839.9" r="5.4"/><circle cx="472.7" cy="839" r="5.4"/><circle cx="522.3" cy="842.4" r="5.4"/><circle cx="183.8" cy="844.1" r="5.4"/><circle cx="188" cy="842.4" r="5.4"/><circle cx="201.4" cy="844.1" r="5.4"/><circle cx="203.9" cy="846.6" r="5.4"/><circle cx="207.3" cy="845.8" r="5.4"/><circle cx="198.9" cy="849.1" r="5.4"/><circle cx="202.2" cy="850.8" r="5.4"/><circle cx="173.7" cy="851.6" r="5.4"/><circle cx="177" cy="853.3" r="5.4"/><circle cx="180.4" cy="855.8" r="5.4"/><circle cx="185.4" cy="850.8" r="5.4"/><circle cx="221.6" cy="846.6" r="5.4"/><circle cx="229.1" cy="845.8" r="5.4"/><circle cx="230.8" cy="850.8" r="5.4"/><circle cx="234.2" cy="844.1" r="5.4"/><circle cx="237.5" cy="849.1" r="5.4"/><circle cx="252.6" cy="845.8" r="5.4"/><circle cx="253.5" cy="849.1" r="5.4"/><circle cx="251" cy="841.6" r="5.4"/><circle cx="267.8" cy="855" r="5.4"/><circle cx="277.8" cy="855" r="5.4"/><circle cx="290.4" cy="852.5" r="5.4"/><circle cx="298" cy="854.2" r="5.4"/><circle cx="305.6" cy="849.1" r="5.4"/><circle cx="307.2" cy="850" r="5.4"/><circle cx="308.9" cy="852.5" r="5.4"/><circle cx="312.3" cy="849.1" r="5.4"/><circle cx="332.4" cy="856.7" r="5.4"/><circle cx="349.6" cy="851.6" r="5.4"/><circle cx="366.9" cy="857.5" r="5.4"/><circle cx="375.3" cy="847.4" r="5.4"/><circle cx="412.2" cy="850" r="5.4"/><circle cx="402.2" cy="855" r="5.4"/><circle cx="405.5" cy="857.5" r="5.4"/><circle cx="488.7" cy="850.8" r="5.4"/><circle cx="472.7" cy="855" r="5.4"/><circle cx="530" cy="849.1" r="5.4"/><circle cx="185.4" cy="860.9" r="5.4"/><circle cx="196.4" cy="859.2" r="5.4"/><circle cx="192.2" cy="865.9" r="5.4"/><circle cx="206.4" cy="865.9" r="5.4"/><circle cx="214.8" cy="859.2" r="5.4"/><circle cx="220.7" cy="860.9" r="5.4"/><circle cx="221.6" cy="864.2" r="5.4"/><circle cx="230" cy="859.2" r="5.4"/><circle cx="250.1" cy="860" r="5.4"/><circle cx="254.3" cy="861.7" r="5.4"/><circle cx="256.8" cy="864.2" r="5.4"/><circle cx="257.7" cy="866.8" r="5.4"/><circle cx="261" cy="867.6" r="5.4"/><circle cx="272.8" cy="860" r="5.4"/><circle cx="283.7" cy="861.7" r="5.4"/><circle cx="288.8" cy="857.5" r="5.4"/><circle cx="291.3" cy="859.2" r="5.4"/><circle cx="293.8" cy="860.9" r="5.4"/><circle cx="298" cy="862.6" r="5.4"/><circle cx="305.6" cy="860" r="5.4"/><circle cx="309.8" cy="857.5" r="5.4"/><circle cx="321.5" cy="860.9" r="5.4"/><circle cx="324.9" cy="861.2" r="5.4"/><circle cx="330.8" cy="860.9" r="5.4"/><circle cx="352.6" cy="865.9" r="5.4"/><circle cx="365.2" cy="861.7" r="5.4"/><circle cx="368.6" cy="859.2" r="5.4"/><circle cx="374.4" cy="863.4" r="5.4"/><circle cx="377.8" cy="862.6" r="5.4"/><circle cx="381.2" cy="860.9" r="5.4"/><circle cx="386.2" cy="864.2" r="5.4"/><circle cx="392.1" cy="860" r="5.4"/><circle cx="397.1" cy="860" r="5.4"/><circle cx="400.5" cy="859.2" r="5.4"/><circle cx="403" cy="860" r="5.4"/><circle cx="405.5" cy="860.9" r="5.4"/><circle cx="419" cy="860" r="5.4"/><circle cx="410.9" cy="867.6" r="5.4"/><circle cx="442.5" cy="859.2" r="5.4"/><circle cx="452.6" cy="858.4" r="5.4"/><circle cx="455.1" cy="863.4" r="5.4"/><circle cx="466" cy="868.4" r="5.4"/><circle cx="476.9" cy="870.6" r="5.4"/><circle cx="174" cy="874.3" r="5.4"/><circle cx="180.4" cy="876.8" r="5.4"/><circle cx="193" cy="878.5" r="5.4"/><circle cx="195.5" cy="871" r="5.4"/><circle cx="202.2" cy="875.2" r="5.4"/><circle cx="219" cy="872.6" r="5.4"/><circle cx="221.6" cy="870.1" r="5.4"/><circle cx="219.9" cy="879.4" r="5.4"/><circle cx="240" cy="876.8" r="5.4"/><circle cx="240.9" cy="878" r="5.4"/><circle cx="255.2" cy="875.2" r="5.4"/><circle cx="257.7" cy="871" r="5.4"/><circle cx="269.4" cy="873.5" r="5.4"/><circle cx="282" cy="880.2" r="5.4"/><circle cx="298" cy="873.5" r="5.4"/><circle cx="300.5" cy="869.3" r="5.4"/><circle cx="310.6" cy="876.8" r="5.4"/><circle cx="319" cy="873.5" r="5.4"/><circle cx="337.5" cy="873.5" r="5.4"/><circle cx="343.4" cy="874.3" r="5.4"/><circle cx="352.6" cy="871.8" r="5.4"/><circle cx="345" cy="880.2" r="5.4"/><circle cx="377" cy="876" r="5.4"/><circle cx="382" cy="872.6" r="5.4"/><circle cx="387.9" cy="871" r="5.4"/><circle cx="410.9" cy="877.7" r="5.4"/><circle cx="412.2" cy="879.4" r="5.4"/><circle cx="430.7" cy="873" r="5.4"/><circle cx="439.1" cy="873.5" r="5.4"/><circle cx="454.6" cy="874" r="5.4"/><circle cx="171.2" cy="882.7" r="5.4"/><circle cx="174.5" cy="886.1" r="5.4"/><circle cx="172" cy="889.4" r="5.4"/><circle cx="177.9" cy="887.8" r="5.4"/><circle cx="180.4" cy="884.4" r="5.4"/><circle cx="183.8" cy="889.4" r="5.4"/><circle cx="194.7" cy="889.4" r="5.4"/><circle cx="209.8" cy="886.1" r="5.4"/><circle cx="209" cy="890.3" r="5.4"/><circle cx="218.2" cy="886.1" r="5.4"/><circle cx="227.4" cy="886.9" r="5.4"/><circle cx="256.8" cy="884.4" r="5.4"/><circle cx="251" cy="889.4" r="5.4"/><circle cx="238.9" cy="890.8" r="5.4"/><circle cx="282.9" cy="885.2" r="5.4"/><circle cx="300.5" cy="886.1" r="5.4"/><circle cx="338" cy="887.8" r="5.4"/><circle cx="371.9" cy="884.4" r="5.4"/><circle cx="373.6" cy="886.1" r="5.4"/><circle cx="369.4" cy="893.6" r="5.4"/><circle cx="174.5" cy="893.6" r="5.4"/><circle cx="176.2" cy="896.2" r="5.4"/><circle cx="177.9" cy="897.8" r="5.4"/><circle cx="183.8" cy="896.2" r="5.4"/><circle cx="180.4" cy="892.8" r="5.4"/><circle cx="198.9" cy="898.7" r="5.4"/><circle cx="197.2" cy="900.4" r="5.4"/><circle cx="193" cy="903.7" r="5.4"/><circle cx="224.9" cy="896.2" r="5.4"/><circle cx="233" cy="903.7" r="5.4"/><circle cx="245.9" cy="900.4" r="5.4"/><circle cx="246.8" cy="905.4" r="5.4"/><circle cx="299.3" cy="894.5" r="5.4"/><circle cx="326.6" cy="897.5" r="5.4"/><circle cx="359.3" cy="894.1" r="5.4"/><circle cx="335" cy="902.5" r="5.4"/><circle cx="402.2" cy="893.1" r="5.4"/><circle cx="442.5" cy="898.5" r="5.4"/><circle cx="266.1" cy="905.4" r="5.4"/><circle cx="189.6" cy="915.1" r="5.4"/><circle cx="200.6" cy="913.8" r="5.4"/><circle cx="200.6" cy="924.7" r="5.4"/><circle cx="222.1" cy="916" r="5.4"/><circle cx="225.8" cy="930.3" r="5.4"/><circle cx="267.8" cy="919.7" r="5.4"/><circle cx="271.5" cy="930.6" r="5.4"/><circle cx="305.6" cy="913" r="5.4"/><circle cx="303" cy="917.7" r="5.4"/><circle cx="297.2" cy="925.6" r="5.4"/><circle cx="309.4" cy="934" r="5.4"/><circle cx="366.9" cy="926.4" r="5.4"/><circle cx="197" cy="850.4" r="5.4"/><circle cx="203.8" cy="853.8" r="5.4"/><circle cx="200.4" cy="843.7" r="5.4"/><circle cx="221.4" cy="858.8" r="5.4"/><circle cx="225.6" cy="850.4" r="5.4"/><circle cx="215.5" cy="854.6" r="5.4"/><circle cx="185.3" cy="853.8" r="5.4"/><circle cx="181.9" cy="858.8" r="5.4"/><circle cx="208.8" cy="871.4" r="5.4"/><circle cx="234" cy="843.7" r="5.4"/>
</g>
<g stroke="#0d0d0d" stroke-width="2" stroke-linecap="round" stroke-dasharray="8.4 9.38" fill="none">
<path d="M131.5 375H1152.8"/>
<path d="M677.6 967.1V42.3"/>
</g>
<g font-size="21.3" font-weight="bold" fill="#2077b4" text-anchor="middle">
<text transform="translate(210.8 125) scale(1 1.055)">134</text>
<text transform="translate(348.6 225.6) scale(1 1.055)">602</text>
<text transform="translate(316.4 243.5) scale(1 1.055)">386</text>
<text transform="translate(267.1 295.2) scale(1 1.055)">435</text>
<text transform="translate(296.2 311.5) scale(1 1.055)">321</text>
<text transform="translate(367.5 308.6) scale(1 1.055)">452</text>
<text transform="translate(183.4 318) scale(1 1.055)">533</text>
<text transform="translate(214.3 322.6) scale(1 1.055)">382</text>
<text transform="translate(237.3 351.4) scale(1 1.055)">715</text>
<text transform="translate(634.3 335.7) scale(1 1.055)">714</text>
<text transform="translate(401.4 367.5) scale(1 1.055)">775</text>
<text transform="translate(231.5 390.1) scale(1 1.055)">542</text>
<text transform="translate(282.2 388.8) scale(1 1.055)">523</text>
<text transform="translate(288.4 394.7) scale(1 1.055)">716</text>
<text transform="translate(311.8 393.9) scale(1 1.055)">603</text>
<text transform="translate(382.2 401.4) scale(1 1.055)">153</text>
<text transform="translate(507.6 380.8) scale(1 1.055)">494</text>
<text transform="translate(496.4 391.6) scale(1 1.055)">565</text>
</g>
<g fill="#2077b4" stroke="#000" stroke-width="1.85">
<circle cx="211.2" cy="95.7" r="6.1"/><circle cx="349" cy="196.3" r="6.1"/><circle cx="316.8" cy="214.2" r="6.1"/><circle cx="267.5" cy="265.9" r="6.1"/><circle cx="296.6" cy="282.2" r="6.1"/><circle cx="367.9" cy="279.3" r="6.1"/><circle cx="183.8" cy="288.7" r="6.1"/><circle cx="214.7" cy="293.3" r="6.1"/><circle cx="237.7" cy="322.1" r="6.1"/><circle cx="634.7" cy="306.4" r="6.1"/><circle cx="401.8" cy="338.2" r="6.1"/><circle cx="231.9" cy="360.8" r="6.1"/><circle cx="282.6" cy="359.5" r="6.1"/><circle cx="288.8" cy="365.4" r="6.1"/><circle cx="312.2" cy="364.6" r="6.1"/><circle cx="382.6" cy="372.1" r="6.1"/><circle cx="508" cy="351.5" r="6.1"/><circle cx="496.8" cy="362.3" r="6.1"/>
</g>
<g font-size="21.3" font-weight="bold" fill="#d62728" text-anchor="middle">
<text transform="translate(715.7 490.6) scale(1 1.055)">793</text>
<text transform="translate(708.2 534.5) scale(1 1.055)">98</text>
<text transform="translate(729 556) scale(1 1.055)">752</text>
<text transform="translate(770.1 581.9) scale(1 1.055)">781</text>
<text transform="translate(704.9 597.9) scale(1 1.055)">429</text>
<text transform="translate(683.4 654.7) scale(1 1.055)">832</text>
<text transform="translate(796.5 647.6) scale(1 1.055)">784</text>
<text transform="translate(720 700.2) scale(1 1.055)">785</text>
<text transform="translate(720.3 714.1) scale(1 1.055)">627</text>
<text transform="translate(741.5 711.7) scale(1 1.055)">707</text>
<text transform="translate(762 775.7) scale(1 1.055)">583</text>
<text transform="translate(803.8 783.4) scale(1 1.055)">754</text>
<text transform="translate(857.5 791.9) scale(1 1.055)">789</text>
<text transform="translate(703.9 793.5) scale(1 1.055)">930</text>
<text transform="translate(694.7 803.1) scale(1 1.055)">912</text>
<text transform="translate(681.8 834.1) scale(1 1.055)">907</text>
<text transform="translate(1043.4 521.7) scale(1 1.055)">970</text>
<text transform="translate(1095.3 569.3) scale(1 1.055)">968</text>
<text transform="translate(1014.5 597.6) scale(1 1.055)">969</text>
<text transform="translate(995.6 732.5) scale(1 1.055)">728</text>
<text transform="translate(987.7 751.2) scale(1 1.055)">945</text>
</g>
<g fill="#d62728" stroke="#000" stroke-width="1.85">
<circle cx="716.1" cy="506.8" r="6.1"/><circle cx="708.6" cy="550.7" r="6.1"/><circle cx="729.4" cy="572.2" r="6.1"/><circle cx="770.5" cy="598.1" r="6.1"/><circle cx="705.3" cy="614.1" r="6.1"/><circle cx="683.8" cy="670.9" r="6.1"/><circle cx="796.9" cy="663.8" r="6.1"/><circle cx="720.4" cy="716.4" r="6.1"/><circle cx="720.7" cy="730.3" r="6.1"/><circle cx="741.9" cy="727.9" r="6.1"/><circle cx="762.4" cy="791.9" r="6.1"/><circle cx="804.2" cy="799.6" r="6.1"/><circle cx="857.9" cy="808.1" r="6.1"/><circle cx="704.3" cy="809.7" r="6.1"/><circle cx="695.1" cy="819.3" r="6.1"/><circle cx="682.2" cy="850.3" r="6.1"/><circle cx="1043.8" cy="537.9" r="6.1"/><circle cx="1095.7" cy="585.5" r="6.1"/><circle cx="1014.9" cy="613.8" r="6.1"/><circle cx="996" cy="748.7" r="6.1"/><circle cx="988.1" cy="767.4" r="6.1"/>
</g>
</g>
<g stroke="#000" stroke-width="0.15">
<g font-size="20.6" fill="#000" text-anchor="middle">
<text transform="translate(168 1026.1) scale(1 1.04)">0</text>
<text transform="translate(362.8 1026.1) scale(1 1.04)">1</text>
<text transform="translate(557.6 1026.1) scale(1 1.04)">2</text>
<text transform="translate(752.4 1026.1) scale(1 1.04)">3</text>
<text transform="translate(947.2 1026.1) scale(1 1.04)">4</text>
</g>
<g font-size="21.6" fill="#000" text-anchor="middle">
<text transform="translate(92.4 943.7) rotate(-90)">0.05</text>
<text transform="translate(92.4 802.7) rotate(-90)">0.10</text>
<text transform="translate(92.4 661.7) rotate(-90)">0.15</text>
<text transform="translate(92.4 520.7) rotate(-90)">0.20</text>
<text transform="translate(92.4 379.7) rotate(-90)">0.25</text>
<text transform="translate(92.4 238.7) rotate(-90)">0.30</text>
<text transform="translate(92.4 97.7) rotate(-90)">0.35</text>
</g>
<g fill="#000" text-anchor="middle">
<text font-size="26.7" transform="translate(632 1090.2) scale(1 1.055)">Error Mean</text>
<text font-size="26.4" transform="translate(28.3 515.9) rotate(-90) scale(1 1)">Error SD</text>
</g>
</g>
<rect x="1309.4" y="59.2" width="990.3" height="913.4" fill="#ebebeb"/>
<path d="M1345.6 59.2V972.6M1529.1 59.2V972.6M1712.7 59.2V972.6M1896.2 59.2V972.6M2079.8 59.2V972.6M2263.3 59.2V972.6M1309.4 939.4H2299.7M1309.4 770H2299.7M1309.4 600.6H2299.7M1309.4 431.2H2299.7M1309.4 261.8H2299.7M1309.4 92.4H2299.7" stroke="#fff" stroke-width="1.7" fill="none"/>
<path d="M1345.6 972.6v13.3M1529.1 972.6v13.3M1712.7 972.6v13.3M1896.2 972.6v13.3M2079.8 972.6v13.3M2263.3 972.6v13.3M1309.4 939.4h-13.3M1309.4 770h-13.3M1309.4 600.6h-13.3M1309.4 431.2h-13.3M1309.4 261.8h-13.3M1309.4 92.4h-13.3" stroke="#d2d2d2" stroke-width="1.15" fill="none"/>
<rect x="1309.4" y="59.2" width="990.3" height="913.4" fill="none" stroke="#c2c2c2" stroke-width="1"/>
<clipPath id="cr"><rect x="1309.4" y="59.2" width="990.3" height="913.4"/></clipPath>
<g clip-path="url(#cr)">
<g fill="none" stroke="#000" stroke-width="1.75">
<circle cx="1469.1" cy="487.6" r="4.6"/><circle cx="1443.6" cy="499.8" r="4.6"/><circle cx="1592.1" cy="498.8" r="4.6"/><circle cx="1468.8" cy="507.7" r="4.6"/><circle cx="1438.7" cy="512.9" r="4.6"/><circle cx="1356.4" cy="514.4" r="4.6"/><circle cx="1603.3" cy="513.9" r="4.6"/><circle cx="1647.2" cy="512.4" r="4.6"/><circle cx="1718.1" cy="523.7" r="4.6"/><circle cx="1479.5" cy="527.9" r="4.6"/><circle cx="1474.8" cy="530.1" r="4.6"/><circle cx="1469.9" cy="532.9" r="4.6"/><circle cx="1556" cy="542.7" r="4.6"/><circle cx="1383.3" cy="548" r="4.6"/><circle cx="1401.7" cy="548.9" r="4.6"/><circle cx="1704.6" cy="548.4" r="4.6"/><circle cx="1583.3" cy="553.9" r="4.6"/><circle cx="1664" cy="562.3" r="4.6"/><circle cx="1584" cy="564" r="4.6"/><circle cx="1594.9" cy="562.7" r="4.6"/><circle cx="1563.5" cy="569.4" r="4.6"/><circle cx="1603.8" cy="571.4" r="4.6"/><circle cx="1656.8" cy="569" r="4.6"/><circle cx="1650" cy="569.9" r="4.6"/><circle cx="1647.2" cy="576.3" r="4.6"/><circle cx="1467.3" cy="575.3" r="4.6"/><circle cx="1428.3" cy="579.8" r="4.6"/><circle cx="1480.7" cy="582.5" r="4.6"/><circle cx="1640.5" cy="585.5" r="4.6"/><circle cx="1697.2" cy="584.7" r="4.6"/><circle cx="1364.1" cy="588.4" r="4.6"/><circle cx="1444.4" cy="588.9" r="4.6"/><circle cx="1551.8" cy="587.2" r="4.6"/><circle cx="1576.6" cy="588.5" r="4.6"/><circle cx="1547.9" cy="593.6" r="4.6"/><circle cx="1515" cy="593.7" r="4.6"/><circle cx="1638.3" cy="597.9" r="4.6"/><circle cx="1708.8" cy="599.8" r="4.6"/><circle cx="1583.7" cy="603.5" r="4.6"/><circle cx="1551.1" cy="605.3" r="4.6"/><circle cx="1412.8" cy="609" r="4.6"/><circle cx="1479.5" cy="608" r="4.6"/><circle cx="1489.6" cy="612.7" r="4.6"/><circle cx="1663" cy="613.2" r="4.6"/><circle cx="1680.3" cy="611" r="4.6"/><circle cx="1692" cy="611.9" r="4.6"/><circle cx="1693.7" cy="614.4" r="4.6"/><circle cx="1672.7" cy="615.7" r="4.6"/><circle cx="1676.1" cy="619.4" r="4.6"/><circle cx="1350.2" cy="615.6" r="4.6"/><circle cx="1421.6" cy="616.9" r="4.6"/><circle cx="1416.5" cy="619.8" r="4.6"/><circle cx="1503.4" cy="616.9" r="4.6"/><circle cx="1593.8" cy="616.1" r="4.6"/><circle cx="1576.6" cy="617.4" r="4.6"/><circle cx="1636.1" cy="617.4" r="4.6"/><circle cx="1543.4" cy="620.4" r="4.6"/><circle cx="1461.9" cy="622.8" r="4.6"/><circle cx="1391.7" cy="624.1" r="4.6"/><circle cx="1438.7" cy="625.3" r="4.6"/><circle cx="1573.9" cy="624.5" r="4.6"/><circle cx="1572.8" cy="625.1" r="4.6"/><circle cx="1645.8" cy="627.3" r="4.6"/><circle cx="1530.9" cy="628.7" r="4.6"/><circle cx="1712.2" cy="629.2" r="4.6"/><circle cx="1358.6" cy="632.5" r="4.6"/><circle cx="1391.3" cy="632.4" r="4.6"/><circle cx="1383.4" cy="636.2" r="4.6"/><circle cx="1678.9" cy="634.2" r="4.6"/><circle cx="1710.5" cy="637.4" r="4.6"/><circle cx="1666.8" cy="639.6" r="4.6"/><circle cx="1366.6" cy="642.1" r="4.6"/><circle cx="1403.6" cy="642.5" r="4.6"/><circle cx="1596.3" cy="640.8" r="4.6"/><circle cx="1496.3" cy="644.1" r="4.6"/><circle cx="1530.8" cy="645.5" r="4.6"/><circle cx="1724.8" cy="645" r="4.6"/><circle cx="1346.8" cy="648.8" r="4.6"/><circle cx="1354.7" cy="651.7" r="4.6"/><circle cx="1348.5" cy="654.7" r="4.6"/><circle cx="1545.4" cy="648.8" r="4.6"/><circle cx="1558" cy="648" r="4.6"/><circle cx="1561.8" cy="650.5" r="4.6"/><circle cx="1487.1" cy="651" r="4.6"/><circle cx="1477.5" cy="653.9" r="4.6"/><circle cx="1508.1" cy="653" r="4.6"/><circle cx="1690.4" cy="653.9" r="4.6"/><circle cx="1689.5" cy="654.9" r="4.6"/><circle cx="1594.3" cy="657.2" r="4.6"/><circle cx="1626.2" cy="660.3" r="4.6"/><circle cx="1411.5" cy="660.3" r="4.6"/><circle cx="1426.9" cy="662.6" r="4.6"/><circle cx="1566" cy="660.6" r="4.6"/><circle cx="1568.6" cy="665.6" r="4.6"/><circle cx="1358.9" cy="665.6" r="4.6"/><circle cx="1670.7" cy="664.8" r="4.6"/><circle cx="1587.9" cy="666.5" r="4.6"/><circle cx="1835" cy="520.3" r="4.6"/><circle cx="1862.4" cy="518.6" r="4.6"/><circle cx="1853.1" cy="522.8" r="4.6"/><circle cx="1877.8" cy="519" r="4.6"/><circle cx="1774" cy="527.5" r="4.6"/><circle cx="1850.5" cy="535.8" r="4.6"/><circle cx="1914" cy="532.1" r="4.6"/><circle cx="1967.4" cy="530.1" r="4.6"/><circle cx="2051.7" cy="541.8" r="4.6"/><circle cx="1818.7" cy="543.5" r="4.6"/><circle cx="1882.4" cy="552.2" r="4.6"/><circle cx="1733.7" cy="563.7" r="4.6"/><circle cx="1805.9" cy="563.5" r="4.6"/><circle cx="1827.9" cy="561" r="4.6"/><circle cx="1860.7" cy="569.5" r="4.6"/><circle cx="1834.5" cy="581.3" r="4.6"/><circle cx="1794.3" cy="586.2" r="4.6"/><circle cx="1806.4" cy="592.6" r="4.6"/><circle cx="1819" cy="593.9" r="4.6"/><circle cx="1753.2" cy="595.6" r="4.6"/><circle cx="1962.2" cy="594.2" r="4.6"/><circle cx="1788" cy="602.1" r="4.6"/><circle cx="1794.7" cy="601.8" r="4.6"/><circle cx="1796.4" cy="602.6" r="4.6"/><circle cx="1800.6" cy="601" r="4.6"/><circle cx="1730.8" cy="605.2" r="4.6"/><circle cx="1796" cy="609.4" r="4.6"/><circle cx="1836.7" cy="614.1" r="4.6"/><circle cx="1990.7" cy="611" r="4.6"/><circle cx="1902.2" cy="619.4" r="4.6"/><circle cx="1903.9" cy="621.1" r="4.6"/><circle cx="1912.8" cy="619.4" r="4.6"/><circle cx="1889.9" cy="622.8" r="4.6"/><circle cx="1959.7" cy="619.4" r="4.6"/><circle cx="1900.2" cy="628.7" r="4.6"/><circle cx="1795.5" cy="635.9" r="4.6"/><circle cx="1741.4" cy="642.6" r="4.6"/><circle cx="1744.3" cy="648" r="4.6"/><circle cx="1733.4" cy="648" r="4.6"/><circle cx="1764.8" cy="646" r="4.6"/><circle cx="1788.3" cy="646.8" r="4.6"/><circle cx="1810.3" cy="645.5" r="4.6"/><circle cx="1977" cy="649.3" r="4.6"/><circle cx="1834.2" cy="656.4" r="4.6"/><circle cx="1845.1" cy="658.1" r="4.6"/><circle cx="1771.2" cy="665.6" r="4.6"/><circle cx="1820.7" cy="664.5" r="4.6"/><circle cx="1822.1" cy="667.3" r="4.6"/><circle cx="1826.6" cy="667.8" r="4.6"/><circle cx="1939.5" cy="667.3" r="4.6"/><circle cx="1816.5" cy="675" r="4.6"/><circle cx="1816.5" cy="680.1" r="4.6"/><circle cx="1847.6" cy="679.7" r="4.6"/><circle cx="1845.6" cy="689.3" r="4.6"/><circle cx="1854.3" cy="695.2" r="4.6"/><circle cx="1775.7" cy="686.8" r="4.6"/><circle cx="1760.6" cy="691.8" r="4.6"/><circle cx="1741.4" cy="693.2" r="4.6"/><circle cx="1893.3" cy="692.2" r="4.6"/><circle cx="1983" cy="684.8" r="4.6"/><circle cx="2056.4" cy="683.1" r="4.6"/><circle cx="2029.9" cy="694" r="4.6"/><circle cx="1940" cy="702.3" r="4.6"/><circle cx="1822.1" cy="702.4" r="4.6"/><circle cx="1809.8" cy="705.3" r="4.6"/><circle cx="1851.5" cy="709.1" r="4.6"/><circle cx="1983" cy="712.3" r="4.6"/><circle cx="1758.9" cy="713.3" r="4.6"/><circle cx="1738.7" cy="715.7" r="4.6"/><circle cx="1963.7" cy="722.4" r="4.6"/><circle cx="1885.4" cy="723.8" r="4.6"/><circle cx="1840.2" cy="726.3" r="4.6"/><circle cx="1768.1" cy="733.3" r="4.6"/><circle cx="1852.6" cy="739.4" r="4.6"/><circle cx="2059.4" cy="739.7" r="4.6"/><circle cx="1996.8" cy="742.2" r="4.6"/><circle cx="1744.3" cy="744.3" r="4.6"/><circle cx="1754.5" cy="743.4" r="4.6"/><circle cx="1938.8" cy="743.4" r="4.6"/><circle cx="1791.3" cy="747.6" r="4.6"/><circle cx="1793.8" cy="753.5" r="4.6"/><circle cx="1814" cy="751.3" r="4.6"/><circle cx="1898.8" cy="745.3" r="4.6"/><circle cx="1893.8" cy="746.4" r="4.6"/><circle cx="1890.4" cy="749.3" r="4.6"/><circle cx="1904" cy="752.7" r="4.6"/><circle cx="1946.4" cy="756.4" r="4.6"/><circle cx="1922" cy="761.4" r="4.6"/><circle cx="1733" cy="762.9" r="4.6"/><circle cx="1767" cy="762.9" r="4.6"/><circle cx="1777.9" cy="765.8" r="4.6"/><circle cx="1770.7" cy="770.8" r="4.6"/><circle cx="1761.6" cy="772.1" r="4.6"/><circle cx="1980.8" cy="767.9" r="4.6"/><circle cx="1733.4" cy="775.8" r="4.6"/><circle cx="2008.5" cy="775.5" r="4.6"/><circle cx="1903" cy="782.2" r="4.6"/><circle cx="1900.5" cy="787.9" r="4.6"/><circle cx="1976.6" cy="782.2" r="4.6"/><circle cx="1744.3" cy="788.1" r="4.6"/><circle cx="1746.8" cy="788.1" r="4.6"/><circle cx="1762.8" cy="789.8" r="4.6"/><circle cx="1754.9" cy="794.3" r="4.6"/><circle cx="1779.7" cy="794.8" r="4.6"/><circle cx="1873.1" cy="790.1" r="4.6"/><circle cx="1833.1" cy="795.2" r="4.6"/><circle cx="1952.8" cy="793.1" r="4.6"/><circle cx="1845.9" cy="801.5" r="4.6"/><circle cx="1842.9" cy="804.4" r="4.6"/><circle cx="1736.4" cy="803.9" r="4.6"/><circle cx="1826.3" cy="807.4" r="4.6"/><circle cx="1785.4" cy="810.3" r="4.6"/><circle cx="1891.8" cy="809.8" r="4.6"/><circle cx="1943.4" cy="811.6" r="4.6"/><circle cx="1750.2" cy="814.1" r="4.6"/><circle cx="1753.9" cy="814.5" r="4.6"/><circle cx="1861" cy="816.7" r="4.6"/><circle cx="2011.7" cy="815.8" r="4.6"/><circle cx="1779.6" cy="820" r="4.6"/><circle cx="1783.4" cy="821.7" r="4.6"/><circle cx="1775" cy="824.2" r="4.6"/><circle cx="1760.6" cy="823.7" r="4.6"/><circle cx="1795.2" cy="826.2" r="4.6"/><circle cx="1883.7" cy="826.6" r="4.6"/><circle cx="1888.3" cy="826.6" r="4.6"/><circle cx="1932.1" cy="825.1" r="4.6"/><circle cx="1997.3" cy="825.7" r="4.6"/><circle cx="2047.5" cy="830.9" r="4.6"/><circle cx="2044.5" cy="834.6" r="4.6"/><circle cx="1910.1" cy="835.5" r="4.6"/><circle cx="1908.1" cy="839.7" r="4.6"/><circle cx="1905.6" cy="842.2" r="4.6"/><circle cx="1929.1" cy="838" r="4.6"/><circle cx="1975.6" cy="838.5" r="4.6"/><circle cx="2010.1" cy="839.2" r="4.6"/><circle cx="1835.5" cy="838.8" r="4.6"/><circle cx="1805.1" cy="838.8" r="4.6"/><circle cx="1798.9" cy="843.9" r="4.6"/><circle cx="1806.4" cy="847.2" r="4.6"/><circle cx="1750.2" cy="840.5" r="4.6"/><circle cx="1755.7" cy="840.2" r="4.6"/><circle cx="1752.7" cy="847.2" r="4.6"/><circle cx="1963.3" cy="843.9" r="4.6"/><circle cx="2066" cy="850.1" r="4.6"/><circle cx="1876.2" cy="850.3" r="4.6"/><circle cx="1741.4" cy="854" r="4.6"/><circle cx="1752.7" cy="854" r="4.6"/><circle cx="1793.8" cy="853.1" r="4.6"/><circle cx="1846.8" cy="855.1" r="4.6"/><circle cx="1989.6" cy="858.2" r="4.6"/><circle cx="1758.9" cy="868.4" r="4.6"/><circle cx="1800.1" cy="862.5" r="4.6"/><circle cx="1821.7" cy="871.4" r="4.6"/><circle cx="1379.6" cy="676.4" r="4.6"/><circle cx="1393.8" cy="676.7" r="4.6"/><circle cx="1416.5" cy="675.5" r="4.6"/><circle cx="1346.3" cy="683.1" r="4.6"/><circle cx="1479.5" cy="680.9" r="4.6"/><circle cx="1511.4" cy="681.8" r="4.6"/><circle cx="1534.1" cy="671.7" r="4.6"/><circle cx="1585.4" cy="675" r="4.6"/><circle cx="1625.7" cy="671.7" r="4.6"/><circle cx="1650.5" cy="677.2" r="4.6"/><circle cx="1675.7" cy="675.9" r="4.6"/><circle cx="1684.5" cy="680.1" r="4.6"/><circle cx="1432.5" cy="685.1" r="4.6"/><circle cx="1430.8" cy="687.6" r="4.6"/><circle cx="1346.3" cy="689.8" r="4.6"/><circle cx="1393.3" cy="691" r="4.6"/><circle cx="1412.3" cy="691.8" r="4.6"/><circle cx="1430" cy="691" r="4.6"/><circle cx="1471.1" cy="692.3" r="4.6"/><circle cx="1479.9" cy="686" r="4.6"/><circle cx="1487.9" cy="686.8" r="4.6"/><circle cx="1493.8" cy="689.3" r="4.6"/><circle cx="1484.9" cy="695.2" r="4.6"/><circle cx="1524.9" cy="686.3" r="4.6"/><circle cx="1548.4" cy="686" r="4.6"/><circle cx="1550.4" cy="686.8" r="4.6"/><circle cx="1556" cy="693.5" r="4.6"/><circle cx="1566" cy="688.8" r="4.6"/><circle cx="1576.1" cy="690.2" r="4.6"/><circle cx="1571.9" cy="695.5" r="4.6"/><circle cx="1590.4" cy="686.3" r="4.6"/><circle cx="1596.3" cy="690.2" r="4.6"/><circle cx="1648.4" cy="687.3" r="4.6"/><circle cx="1676.9" cy="688.8" r="4.6"/><circle cx="1685.8" cy="688" r="4.6"/><circle cx="1393.3" cy="700.6" r="4.6"/><circle cx="1473.6" cy="704.9" r="4.6"/><circle cx="1492.5" cy="706.1" r="4.6"/><circle cx="1527.9" cy="698.1" r="4.6"/><circle cx="1539.2" cy="704.1" r="4.6"/><circle cx="1542" cy="703.6" r="4.6"/><circle cx="1546.4" cy="703.1" r="4.6"/><circle cx="1584.5" cy="703.3" r="4.6"/><circle cx="1603.8" cy="705.3" r="4.6"/><circle cx="1609.7" cy="703.1" r="4.6"/><circle cx="1619" cy="701.1" r="4.6"/><circle cx="1650" cy="697.7" r="4.6"/><circle cx="1687.5" cy="699.4" r="4.6"/><circle cx="1702.1" cy="698.9" r="4.6"/><circle cx="1713" cy="698.1" r="4.6"/><circle cx="1716.4" cy="698.6" r="4.6"/><circle cx="1651.7" cy="707" r="4.6"/><circle cx="1661.3" cy="709.5" r="4.6"/><circle cx="1682.8" cy="705.8" r="4.6"/><circle cx="1383.8" cy="710.3" r="4.6"/><circle cx="1423.2" cy="710.3" r="4.6"/><circle cx="1357.4" cy="715.9" r="4.6"/><circle cx="1373.2" cy="718.7" r="4.6"/><circle cx="1445.9" cy="713.3" r="4.6"/><circle cx="1448.4" cy="714" r="4.6"/><circle cx="1451.8" cy="714.5" r="4.6"/><circle cx="1473.6" cy="712" r="4.6"/><circle cx="1487.1" cy="710" r="4.6"/><circle cx="1511.1" cy="709" r="4.6"/><circle cx="1522.4" cy="717" r="4.6"/><circle cx="1558.1" cy="715" r="4.6"/><circle cx="1609.2" cy="717.9" r="4.6"/><circle cx="1630.7" cy="711.2" r="4.6"/><circle cx="1703" cy="715" r="4.6"/><circle cx="1441.7" cy="720.4" r="4.6"/><circle cx="1478.7" cy="720.1" r="4.6"/><circle cx="1479.5" cy="721.2" r="4.6"/><circle cx="1393.3" cy="720.4" r="4.6"/><circle cx="1417.4" cy="720.4" r="4.6"/><circle cx="1382.6" cy="726.6" r="4.6"/><circle cx="1366.6" cy="730.5" r="4.6"/><circle cx="1433.7" cy="726.6" r="4.6"/><circle cx="1442.9" cy="729.6" r="4.6"/><circle cx="1500.5" cy="726.3" r="4.6"/><circle cx="1503" cy="727.1" r="4.6"/><circle cx="1560.5" cy="726.6" r="4.6"/><circle cx="1576.6" cy="725.8" r="4.6"/><circle cx="1703" cy="729.6" r="4.6"/><circle cx="1707.2" cy="732.2" r="4.6"/><circle cx="1712.7" cy="732.2" r="4.6"/><circle cx="1352.2" cy="732.7" r="4.6"/><circle cx="1374.5" cy="736" r="4.6"/><circle cx="1379.6" cy="736" r="4.6"/><circle cx="1417.4" cy="733" r="4.6"/><circle cx="1457.7" cy="735.5" r="4.6"/><circle cx="1460.2" cy="738.9" r="4.6"/><circle cx="1475.3" cy="733.5" r="4.6"/><circle cx="1528.7" cy="732.7" r="4.6"/><circle cx="1517.3" cy="735.2" r="4.6"/><circle cx="1546.7" cy="738.9" r="4.6"/><circle cx="1602.2" cy="733.3" r="4.6"/><circle cx="1637.4" cy="732.2" r="4.6"/><circle cx="1630.4" cy="738.5" r="4.6"/><circle cx="1684.1" cy="742.6" r="4.6"/><circle cx="1365.3" cy="744.8" r="4.6"/><circle cx="1372.8" cy="743.9" r="4.6"/><circle cx="1385.9" cy="744.8" r="4.6"/><circle cx="1353.5" cy="752.3" r="4.6"/><circle cx="1422.1" cy="749.8" r="4.6"/><circle cx="1434.5" cy="749.8" r="4.6"/><circle cx="1461.5" cy="745.6" r="4.6"/><circle cx="1469.4" cy="746.4" r="4.6"/><circle cx="1472" cy="747.6" r="4.6"/><circle cx="1461" cy="750.6" r="4.6"/><circle cx="1466.9" cy="752.3" r="4.6"/><circle cx="1487.1" cy="744.8" r="4.6"/><circle cx="1491.6" cy="741.9" r="4.6"/><circle cx="1504.7" cy="748.1" r="4.6"/><circle cx="1506.4" cy="749" r="4.6"/><circle cx="1523.2" cy="743.6" r="4.6"/><circle cx="1527.9" cy="752.3" r="4.6"/><circle cx="1533.3" cy="750.3" r="4.6"/><circle cx="1561.8" cy="748.1" r="4.6"/><circle cx="1576.6" cy="747.6" r="4.6"/><circle cx="1582" cy="751.5" r="4.6"/><circle cx="1563.5" cy="754" r="4.6"/><circle cx="1617.3" cy="748.6" r="4.6"/><circle cx="1624" cy="745.1" r="4.6"/><circle cx="1624.3" cy="752.3" r="4.6"/><circle cx="1669.4" cy="746.4" r="4.6"/><circle cx="1672.7" cy="746.9" r="4.6"/><circle cx="1675.2" cy="752" r="4.6"/><circle cx="1694.6" cy="749.8" r="4.6"/><circle cx="1716.9" cy="750.1" r="4.6"/><circle cx="1346.8" cy="759.9" r="4.6"/><circle cx="1348.5" cy="762.1" r="4.6"/><circle cx="1372" cy="759" r="4.6"/><circle cx="1379.1" cy="762.1" r="4.6"/><circle cx="1395.5" cy="759.9" r="4.6"/><circle cx="1395.5" cy="764.4" r="4.6"/><circle cx="1409.3" cy="757.9" r="4.6"/><circle cx="1414" cy="761.6" r="4.6"/><circle cx="1449.3" cy="757.9" r="4.6"/><circle cx="1459.4" cy="754.8" r="4.6"/><circle cx="1466.1" cy="756.5" r="4.6"/><circle cx="1466.9" cy="759.9" r="4.6"/><circle cx="1475.3" cy="757.4" r="4.6"/><circle cx="1482.9" cy="759" r="4.6"/><circle cx="1483.7" cy="764.9" r="4.6"/><circle cx="1492.6" cy="761.6" r="4.6"/><circle cx="1498" cy="764.1" r="4.6"/><circle cx="1511.4" cy="756.5" r="4.6"/><circle cx="1514.8" cy="754.8" r="4.6"/><circle cx="1523.2" cy="765.8" r="4.6"/><circle cx="1571.1" cy="754.8" r="4.6"/><circle cx="1577.8" cy="761.6" r="4.6"/><circle cx="1586.2" cy="764.1" r="4.6"/><circle cx="1575.3" cy="767.4" r="4.6"/><circle cx="1604.7" cy="757.7" r="4.6"/><circle cx="1646.7" cy="755.7" r="4.6"/><circle cx="1650.9" cy="762.1" r="4.6"/><circle cx="1631.6" cy="766.3" r="4.6"/><circle cx="1727.3" cy="760.7" r="4.6"/><circle cx="1699.6" cy="766.6" r="4.6"/><circle cx="1714.7" cy="767.1" r="4.6"/><circle cx="1365.6" cy="767.1" r="4.6"/><circle cx="1348.1" cy="777.9" r="4.6"/><circle cx="1363.6" cy="777.5" r="4.6"/><circle cx="1364.4" cy="780" r="4.6"/><circle cx="1365.3" cy="781.7" r="4.6"/><circle cx="1394.7" cy="780" r="4.6"/><circle cx="1408.5" cy="777.2" r="4.6"/><circle cx="1430.5" cy="772.5" r="4.6"/><circle cx="1440" cy="768.3" r="4.6"/><circle cx="1440.9" cy="769.5" r="4.6"/><circle cx="1423.2" cy="778.4" r="4.6"/><circle cx="1422.4" cy="780.5" r="4.6"/><circle cx="1457.7" cy="768.6" r="4.6"/><circle cx="1467.8" cy="770.8" r="4.6"/><circle cx="1475.8" cy="776.7" r="4.6"/><circle cx="1506.4" cy="773.3" r="4.6"/><circle cx="1507.2" cy="775.8" r="4.6"/><circle cx="1525.7" cy="768.3" r="4.6"/><circle cx="1526.6" cy="772.5" r="4.6"/><circle cx="1537" cy="766.6" r="4.6"/><circle cx="1538.3" cy="769.1" r="4.6"/><circle cx="1540" cy="774.2" r="4.6"/><circle cx="1536.3" cy="777.5" r="4.6"/><circle cx="1565.2" cy="773.7" r="4.6"/><circle cx="1599.3" cy="769.1" r="4.6"/><circle cx="1619.3" cy="771.6" r="4.6"/><circle cx="1657.3" cy="768.8" r="4.6"/><circle cx="1684.8" cy="768.6" r="4.6"/><circle cx="1676.4" cy="774.5" r="4.6"/><circle cx="1705" cy="772.5" r="4.6"/><circle cx="1711.4" cy="771.3" r="4.6"/><circle cx="1696.2" cy="777.5" r="4.6"/><circle cx="1693.7" cy="779.2" r="4.6"/><circle cx="1380.4" cy="784.2" r="4.6"/><circle cx="1383.8" cy="782.9" r="4.6"/><circle cx="1357.7" cy="791" r="4.6"/><circle cx="1395.2" cy="787.6" r="4.6"/><circle cx="1406.4" cy="787.6" r="4.6"/><circle cx="1434.5" cy="786.8" r="4.6"/><circle cx="1466.9" cy="782.2" r="4.6"/><circle cx="1461.9" cy="786.8" r="4.6"/><circle cx="1474.8" cy="786.8" r="4.6"/><circle cx="1474.8" cy="787.9" r="4.6"/><circle cx="1492.6" cy="781.2" r="4.6"/><circle cx="1512.3" cy="785.9" r="4.6"/><circle cx="1510.6" cy="781.7" r="4.6"/><circle cx="1565.5" cy="780.9" r="4.6"/><circle cx="1584" cy="783.7" r="4.6"/><circle cx="1556" cy="787.9" r="4.6"/><circle cx="1540.8" cy="787.6" r="4.6"/><circle cx="1532.9" cy="789.8" r="4.6"/><circle cx="1629" cy="785.9" r="4.6"/><circle cx="1654.2" cy="782.6" r="4.6"/><circle cx="1664" cy="784.6" r="4.6"/><circle cx="1604.2" cy="789.3" r="4.6"/><circle cx="1598" cy="791.8" r="4.6"/><circle cx="1613.6" cy="791.3" r="4.6"/><circle cx="1676.1" cy="790.6" r="4.6"/><circle cx="1358.6" cy="795.2" r="4.6"/><circle cx="1372.8" cy="794" r="4.6"/><circle cx="1380.4" cy="794.7" r="4.6"/><circle cx="1389.1" cy="794.3" r="4.6"/><circle cx="1427.8" cy="797.7" r="4.6"/><circle cx="1430.8" cy="795.2" r="4.6"/><circle cx="1440.5" cy="793.1" r="4.6"/><circle cx="1453.1" cy="789.8" r="4.6"/><circle cx="1462.7" cy="791" r="4.6"/><circle cx="1461.5" cy="798.5" r="4.6"/><circle cx="1490.9" cy="791" r="4.6"/><circle cx="1496.3" cy="798" r="4.6"/><circle cx="1542.5" cy="793.5" r="4.6"/><circle cx="1545.9" cy="795.2" r="4.6"/><circle cx="1550.1" cy="795.2" r="4.6"/><circle cx="1521.5" cy="799.4" r="4.6"/><circle cx="1525.7" cy="798.5" r="4.6"/><circle cx="1566.9" cy="791.8" r="4.6"/><circle cx="1570.2" cy="789.3" r="4.6"/><circle cx="1594.6" cy="798.5" r="4.6"/><circle cx="1631.9" cy="796" r="4.6"/><circle cx="1387.6" cy="895.3" r="4.6"/><circle cx="1425.1" cy="898.6" r="4.6"/><circle cx="1351" cy="805.5" r="4.6"/><circle cx="1371.2" cy="807.1" r="4.6"/><circle cx="1372.8" cy="810.9" r="4.6"/><circle cx="1386.3" cy="805" r="4.6"/><circle cx="1393.8" cy="800.8" r="4.6"/><circle cx="1416.1" cy="810.5" r="4.6"/><circle cx="1424.1" cy="811.3" r="4.6"/><circle cx="1428.3" cy="813.9" r="4.6"/><circle cx="1441.7" cy="807.6" r="4.6"/><circle cx="1448.4" cy="808.4" r="4.6"/><circle cx="1454.3" cy="810.1" r="4.6"/><circle cx="1453.5" cy="812.6" r="4.6"/><circle cx="1471.1" cy="809.2" r="4.6"/><circle cx="1476.2" cy="808" r="4.6"/><circle cx="1477.8" cy="810.1" r="4.6"/><circle cx="1487.1" cy="803.4" r="4.6"/><circle cx="1497.2" cy="807.1" r="4.6"/><circle cx="1504.7" cy="807.6" r="4.6"/><circle cx="1508.1" cy="808.4" r="4.6"/><circle cx="1514.8" cy="809.2" r="4.6"/><circle cx="1521.5" cy="810.1" r="4.6"/><circle cx="1524" cy="801.3" r="4.6"/><circle cx="1351.4" cy="815.5" r="4.6"/><circle cx="1356" cy="813.4" r="4.6"/><circle cx="1366.5" cy="817.6" r="4.6"/><circle cx="1375.4" cy="820.2" r="4.6"/><circle cx="1380.4" cy="821" r="4.6"/><circle cx="1386.3" cy="819.7" r="4.6"/><circle cx="1388" cy="817.2" r="4.6"/><circle cx="1391.3" cy="815.1" r="4.6"/><circle cx="1393.8" cy="813.4" r="4.6"/><circle cx="1403.1" cy="816" r="4.6"/><circle cx="1403.9" cy="818.9" r="4.6"/><circle cx="1412.3" cy="820.6" r="4.6"/><circle cx="1412.7" cy="822.7" r="4.6"/><circle cx="1446.8" cy="821" r="4.6"/><circle cx="1456" cy="816.8" r="4.6"/><circle cx="1461" cy="820.6" r="4.6"/><circle cx="1470.3" cy="817.6" r="4.6"/><circle cx="1472" cy="820.2" r="4.6"/><circle cx="1485.4" cy="816.4" r="4.6"/><circle cx="1487.9" cy="819.3" r="4.6"/><circle cx="1502.2" cy="818.1" r="4.6"/><circle cx="1508.9" cy="825.2" r="4.6"/><circle cx="1526.6" cy="818.1" r="4.6"/><circle cx="1529.7" cy="821.8" r="4.6"/><circle cx="1349.3" cy="828.1" r="4.6"/><circle cx="1356.9" cy="832.8" r="4.6"/><circle cx="1364.4" cy="826.9" r="4.6"/><circle cx="1367" cy="827.7" r="4.6"/><circle cx="1369.5" cy="825.2" r="4.6"/><circle cx="1379.6" cy="831.1" r="4.6"/><circle cx="1379.1" cy="834.4" r="4.6"/><circle cx="1384.6" cy="824.4" r="4.6"/><circle cx="1386.3" cy="826" r="4.6"/><circle cx="1402.2" cy="824.4" r="4.6"/><circle cx="1403.9" cy="827.7" r="4.6"/><circle cx="1398" cy="833.2" r="4.6"/><circle cx="1412.7" cy="826" r="4.6"/><circle cx="1438.4" cy="825.6" r="4.6"/><circle cx="1446.8" cy="826" r="4.6"/><circle cx="1450.1" cy="827.7" r="4.6"/><circle cx="1456" cy="831.1" r="4.6"/><circle cx="1472" cy="827.7" r="4.6"/><circle cx="1478.7" cy="827.7" r="4.6"/><circle cx="1487.9" cy="825.2" r="4.6"/><circle cx="1489.6" cy="828.6" r="4.6"/><circle cx="1494.6" cy="829.4" r="4.6"/><circle cx="1498.8" cy="832.8" r="4.6"/><circle cx="1508.9" cy="827.7" r="4.6"/><circle cx="1517.3" cy="829.4" r="4.6"/><circle cx="1519" cy="830.2" r="4.6"/><circle cx="1346.8" cy="841.2" r="4.6"/><circle cx="1348.1" cy="842" r="4.6"/><circle cx="1350.2" cy="842.8" r="4.6"/><circle cx="1352.7" cy="843.7" r="4.6"/><circle cx="1355.2" cy="837" r="4.6"/><circle cx="1369.1" cy="837" r="4.6"/><circle cx="1369.5" cy="847" r="4.6"/><circle cx="1377" cy="843.7" r="4.6"/><circle cx="1380.4" cy="844.5" r="4.6"/><circle cx="1383.8" cy="846.2" r="4.6"/><circle cx="1401" cy="839.5" r="4.6"/><circle cx="1416.1" cy="836.1" r="4.6"/><circle cx="1414.8" cy="845.4" r="4.6"/><circle cx="1420.3" cy="847.9" r="4.6"/><circle cx="1424.9" cy="842" r="4.6"/><circle cx="1429.1" cy="839.5" r="4.6"/><circle cx="1431.6" cy="838.6" r="4.6"/><circle cx="1445.1" cy="837" r="4.6"/><circle cx="1446.8" cy="838.2" r="4.6"/><circle cx="1448.4" cy="839.5" r="4.6"/><circle cx="1450.1" cy="837.8" r="4.6"/><circle cx="1451.8" cy="840.3" r="4.6"/><circle cx="1445.9" cy="840.3" r="4.6"/><circle cx="1447.6" cy="842" r="4.6"/><circle cx="1457.7" cy="841.2" r="4.6"/><circle cx="1459.4" cy="843.7" r="4.6"/><circle cx="1482.9" cy="836.1" r="4.6"/><circle cx="1488.8" cy="834.4" r="4.6"/><circle cx="1504.7" cy="837" r="4.6"/><circle cx="1514" cy="837" r="4.6"/><circle cx="1524" cy="840.3" r="4.6"/><circle cx="1516.5" cy="844.5" r="4.6"/><circle cx="1527.4" cy="843.7" r="4.6"/><circle cx="1353.5" cy="847" r="4.6"/><circle cx="1355.2" cy="849.6" r="4.6"/><circle cx="1356.9" cy="851.2" r="4.6"/><circle cx="1351.8" cy="850.4" r="4.6"/><circle cx="1378.3" cy="852.9" r="4.6"/><circle cx="1369.5" cy="850.4" r="4.6"/><circle cx="1403.1" cy="853.8" r="4.6"/><circle cx="1424.9" cy="855.4" r="4.6"/><circle cx="1426.6" cy="856.3" r="4.6"/><circle cx="1439.2" cy="853.8" r="4.6"/><circle cx="1441.7" cy="857.1" r="4.6"/><circle cx="1454.3" cy="851.2" r="4.6"/><circle cx="1458.5" cy="849.6" r="4.6"/><circle cx="1452.6" cy="857.1" r="4.6"/><circle cx="1469.4" cy="847.9" r="4.6"/><circle cx="1476.2" cy="850.4" r="4.6"/><circle cx="1478.7" cy="852.9" r="4.6"/><circle cx="1480.4" cy="854.6" r="4.6"/><circle cx="1490.4" cy="844.5" r="4.6"/><circle cx="1489.6" cy="852.1" r="4.6"/><circle cx="1514.8" cy="847.9" r="4.6"/><circle cx="1517.3" cy="850.4" r="4.6"/><circle cx="1521.5" cy="849.6" r="4.6"/><circle cx="1524" cy="847" r="4.6"/><circle cx="1511.4" cy="857.1" r="4.6"/><circle cx="1524.9" cy="856.3" r="4.6"/><circle cx="1529.7" cy="850.4" r="4.6"/><circle cx="1349.3" cy="859.6" r="4.6"/><circle cx="1363.6" cy="858" r="4.6"/><circle cx="1365.3" cy="856.3" r="4.6"/><circle cx="1385.9" cy="863" r="4.6"/><circle cx="1398.5" cy="863.8" r="4.6"/><circle cx="1406" cy="863.4" r="4.6"/><circle cx="1417.8" cy="866.4" r="4.6"/><circle cx="1420.3" cy="863" r="4.6"/><circle cx="1422.4" cy="858.8" r="4.6"/><circle cx="1453.9" cy="862.2" r="4.6"/><circle cx="1464.4" cy="862.2" r="4.6"/><circle cx="1477.8" cy="862.2" r="4.6"/><circle cx="1479.5" cy="858.8" r="4.6"/><circle cx="1497.2" cy="858" r="4.6"/><circle cx="1472.8" cy="867.2" r="4.6"/><circle cx="1349.7" cy="872.2" r="4.6"/><circle cx="1351" cy="873.9" r="4.6"/><circle cx="1391.7" cy="868" r="4.6"/><circle cx="1427.9" cy="870.1" r="4.6"/><circle cx="1460.2" cy="871.4" r="4.6"/><circle cx="1460.6" cy="873.9" r="4.6"/><circle cx="1515.6" cy="867.2" r="4.6"/><circle cx="1505.1" cy="871.8" r="4.6"/><circle cx="1378.7" cy="883.6" r="4.6"/><circle cx="1386.3" cy="880.6" r="4.6"/><circle cx="1394.3" cy="881.9" r="4.6"/><circle cx="1401" cy="879.8" r="4.6"/><circle cx="1412.3" cy="877.7" r="4.6"/><circle cx="1446.8" cy="884.4" r="4.6"/><circle cx="1481.2" cy="883.6" r="4.6"/><circle cx="1514.4" cy="886.9" r="4.6"/><circle cx="1430" cy="885.7" r="4.6"/><circle cx="1430.8" cy="890.7" r="4.6"/><circle cx="1538.4" cy="803.4" r="4.6"/><circle cx="1532.5" cy="801.7" r="4.6"/><circle cx="1548.5" cy="808.4" r="4.6"/><circle cx="1548.9" cy="811.3" r="4.6"/><circle cx="1558.6" cy="808.8" r="4.6"/><circle cx="1561.9" cy="808.4" r="4.6"/><circle cx="1564.4" cy="809.2" r="4.6"/><circle cx="1566.1" cy="810.9" r="4.6"/><circle cx="1573.3" cy="807.1" r="4.6"/><circle cx="1581.7" cy="813.4" r="4.6"/><circle cx="1607.3" cy="801.7" r="4.6"/><circle cx="1609" cy="802.9" r="4.6"/><circle cx="1614.4" cy="808.4" r="4.6"/><circle cx="1632.1" cy="809.2" r="4.6"/><circle cx="1685" cy="805" r="4.6"/><circle cx="1693" cy="804.6" r="4.6"/><circle cx="1705.1" cy="806.7" r="4.6"/><circle cx="1723.6" cy="805" r="4.6"/><circle cx="1530.4" cy="806.3" r="4.6"/><circle cx="1530.4" cy="816" r="4.6"/><circle cx="1549.7" cy="822.7" r="4.6"/><circle cx="1561.5" cy="819.3" r="4.6"/><circle cx="1569.5" cy="819.3" r="4.6"/><circle cx="1572" cy="815.1" r="4.6"/><circle cx="1577" cy="823.9" r="4.6"/><circle cx="1584.6" cy="818.9" r="4.6"/><circle cx="1617.8" cy="818.5" r="4.6"/><circle cx="1622" cy="820.6" r="4.6"/><circle cx="1627.9" cy="816" r="4.6"/><circle cx="1635" cy="816.8" r="4.6"/><circle cx="1637.5" cy="818.1" r="4.6"/><circle cx="1638.4" cy="820.2" r="4.6"/><circle cx="1646.8" cy="820.2" r="4.6"/><circle cx="1662.7" cy="816.8" r="4.6"/><circle cx="1686.7" cy="815.1" r="4.6"/><circle cx="1705.6" cy="817.2" r="4.6"/><circle cx="1703.5" cy="824.4" r="4.6"/><circle cx="1714" cy="825.2" r="4.6"/><circle cx="1722.4" cy="822.3" r="4.6"/><circle cx="1593.4" cy="826.5" r="4.6"/><circle cx="1619" cy="827.3" r="4.6"/><circle cx="1619.9" cy="828.1" r="4.6"/><circle cx="1634.2" cy="827.7" r="4.6"/><circle cx="1646.3" cy="832.3" r="4.6"/><circle cx="1636.7" cy="833.6" r="4.6"/><circle cx="1637.5" cy="835.3" r="4.6"/><circle cx="1635.8" cy="834.4" r="4.6"/><circle cx="1638.4" cy="837" r="4.6"/><circle cx="1670.7" cy="826.9" r="4.6"/><circle cx="1660.2" cy="834" r="4.6"/><circle cx="1601.4" cy="834.4" r="4.6"/><circle cx="1615.3" cy="836.1" r="4.6"/><circle cx="1536.7" cy="836.1" r="4.6"/><circle cx="1572" cy="840.7" r="4.6"/><circle cx="1581.7" cy="844.9" r="4.6"/><circle cx="1590.9" cy="841.6" r="4.6"/><circle cx="1591.3" cy="843.7" r="4.6"/><circle cx="1665.2" cy="837" r="4.6"/><circle cx="1673.6" cy="837" r="4.6"/><circle cx="1720.3" cy="845.4" r="4.6"/><circle cx="1661.9" cy="845.8" r="4.6"/><circle cx="1656.8" cy="848.3" r="4.6"/><circle cx="1544.7" cy="853.8" r="4.6"/><circle cx="1569.5" cy="851.2" r="4.6"/><circle cx="1570.3" cy="854.2" r="4.6"/><circle cx="1595.9" cy="852.1" r="4.6"/><circle cx="1611.1" cy="855.9" r="4.6"/><circle cx="1632.5" cy="851.2" r="4.6"/><circle cx="1665.2" cy="855.4" r="4.6"/><circle cx="1705.1" cy="849.6" r="4.6"/><circle cx="1706" cy="852.1" r="4.6"/><circle cx="1707.7" cy="855.4" r="4.6"/><circle cx="1714" cy="851.2" r="4.6"/><circle cx="1726.6" cy="851.7" r="4.6"/><circle cx="1537.6" cy="858.8" r="4.6"/><circle cx="1532.5" cy="862.2" r="4.6"/><circle cx="1575.4" cy="861.7" r="4.6"/><circle cx="1580.4" cy="860.1" r="4.6"/><circle cx="1545.5" cy="866.4" r="4.6"/><circle cx="1555.2" cy="866.4" r="4.6"/><circle cx="1557.3" cy="868.9" r="4.6"/><circle cx="1535.9" cy="869.3" r="4.6"/><circle cx="1616.1" cy="865.1" r="4.6"/><circle cx="1632.5" cy="865.5" r="4.6"/><circle cx="1664.8" cy="865.9" r="4.6"/><circle cx="1657.7" cy="867.2" r="4.6"/><circle cx="1697.2" cy="863.4" r="4.6"/><circle cx="1560.2" cy="879.4" r="4.6"/><circle cx="1552.7" cy="888.6" r="4.6"/><circle cx="1597.6" cy="883.6" r="4.6"/><circle cx="1653.1" cy="876.4" r="4.6"/><circle cx="1710.2" cy="879.8" r="4.6"/>
</g>
<g stroke="#0d0d0d" stroke-width="1.95" stroke-linecap="round" stroke-dasharray="3.55 7.085" fill="none">
<path d="M1309.8 487.4H2319.7"/>
<path d="M2071.2 972.6V39.2"/>
</g>
<g fill="#2077b4" stroke="#000" stroke-width="1.8">
<circle cx="1478.1" cy="164.6" r="5"/><circle cx="1859.9" cy="311.8" r="5"/><circle cx="2064.9" cy="331.7" r="5"/><circle cx="1711.6" cy="363.6" r="5"/><circle cx="1440.6" cy="397.8" r="5"/><circle cx="1447.1" cy="401.7" r="5"/><circle cx="1441" cy="416.5" r="5"/><circle cx="1595.2" cy="433.8" r="5"/><circle cx="1763.3" cy="444" r="5"/><circle cx="1408.1" cy="465.5" r="5"/><circle cx="1617.5" cy="483" r="5"/><circle cx="1793" cy="485.8" r="5"/>
</g>
<g fill="#2ca02c" stroke="#000" stroke-width="1.8">
<circle cx="2159.9" cy="390.7" r="5"/><circle cx="2215.3" cy="423.4" r="5"/>
</g>
<g fill="#d62728" stroke="#000" stroke-width="1.8">
<circle cx="2091.3" cy="541" r="5"/><circle cx="2150.7" cy="582.8" r="5"/><circle cx="2163.8" cy="611.3" r="5"/><circle cx="2111.3" cy="620.1" r="5"/><circle cx="2127.2" cy="655.6" r="5"/><circle cx="2232.4" cy="708.3" r="5"/><circle cx="2212.8" cy="733.6" r="5"/><circle cx="2162.2" cy="735.7" r="5"/><circle cx="2117.3" cy="789.5" r="5"/><circle cx="2129.5" cy="813.2" r="5"/>
</g>
<g font-size="17.6" font-weight="bold" fill="#2077b4" text-anchor="middle">
<text transform="translate(1478.1 188.6) scale(1 1.0)">77</text>
<text transform="translate(1859.9 335.8) scale(1 1.0)">782</text>
<text transform="translate(2064.9 355.7) scale(1 1.0)">508</text>
<text transform="translate(1711.6 387.6) scale(1 1.0)">362</text>
<text transform="translate(1440.6 421.8) scale(1 1.0)">759</text>
<text transform="translate(1447.1 425.7) scale(1 1.0)">283</text>
<text transform="translate(1441 440.5) scale(1 1.0)">280</text>
<text transform="translate(1595.2 457.8) scale(1 1.0)">745</text>
<text transform="translate(1763.3 468) scale(1 1.0)">382</text>
<text transform="translate(1408.1 489.5) scale(1 1.0)">153</text>
<text transform="translate(1617.5 507) scale(1 1.0)">193</text>
<text transform="translate(1793 509.8) scale(1 1.0)">603</text>
</g>
<g font-size="17.6" font-weight="bold" fill="#2ca02c" text-anchor="middle">
<text transform="translate(2159.9 414.7) scale(1 1.0)">529</text>
<text transform="translate(2215.3 447.4) scale(1 1.0)">681</text>
</g>
<g font-size="17.6" font-weight="bold" fill="#d62728" text-anchor="middle">
<text transform="translate(2091.3 528.6) scale(1 1.0)">395</text>
<text transform="translate(2150.7 570.4) scale(1 1.0)">559</text>
<text transform="translate(2163.8 598.9) scale(1 1.0)">714</text>
<text transform="translate(2111.3 607.7) scale(1 1.0)">127</text>
<text transform="translate(2127.2 643.2) scale(1 1.0)">553</text>
<text transform="translate(2232.4 695.9) scale(1 1.0)">66</text>
<text transform="translate(2212.8 721.2) scale(1 1.0)">122</text>
<text transform="translate(2162.2 723.3) scale(1 1.0)">558</text>
<text transform="translate(2117.3 777.1) scale(1 1.0)">595</text>
<text transform="translate(2129.5 800.8) scale(1 1.0)">642</text>
</g>
</g>
<g stroke="#000" stroke-width="0.15">
<g font-size="16.8" fill="#000" text-anchor="middle">
<text transform="translate(1345.6 1019.3) scale(1 1.05)">0.0</text>
<text transform="translate(1529.1 1019.3) scale(1 1.05)">0.5</text>
<text transform="translate(1712.7 1019.3) scale(1 1.05)">1.0</text>
<text transform="translate(1896.2 1019.3) scale(1 1.05)">1.5</text>
<text transform="translate(2079.8 1019.3) scale(1 1.05)">2.0</text>
<text transform="translate(2263.3 1019.3) scale(1 1.05)">2.5</text>
</g>
<g font-size="18" fill="#000" text-anchor="middle">
<text transform="translate(1278.5 939.4) rotate(-90)">0.0</text>
<text transform="translate(1278.5 770) rotate(-90)">0.5</text>
<text transform="translate(1278.5 600.6) rotate(-90)">1.0</text>
<text transform="translate(1278.5 431.2) rotate(-90)">1.5</text>
<text transform="translate(1278.5 261.8) rotate(-90)">2.0</text>
<text transform="translate(1278.5 92.4) rotate(-90)">2.5</text>
</g>
<g fill="#000" text-anchor="middle">
<text font-size="21.2" transform="translate(1804.6 1070.2) scale(1 1.01)">Error Mean</text>
<text font-size="21.4" transform="translate(1227.9 515.7) rotate(-90) scale(1 1.05)">Error SD</text>
</g>
</g>
</svg>
</body></html>
